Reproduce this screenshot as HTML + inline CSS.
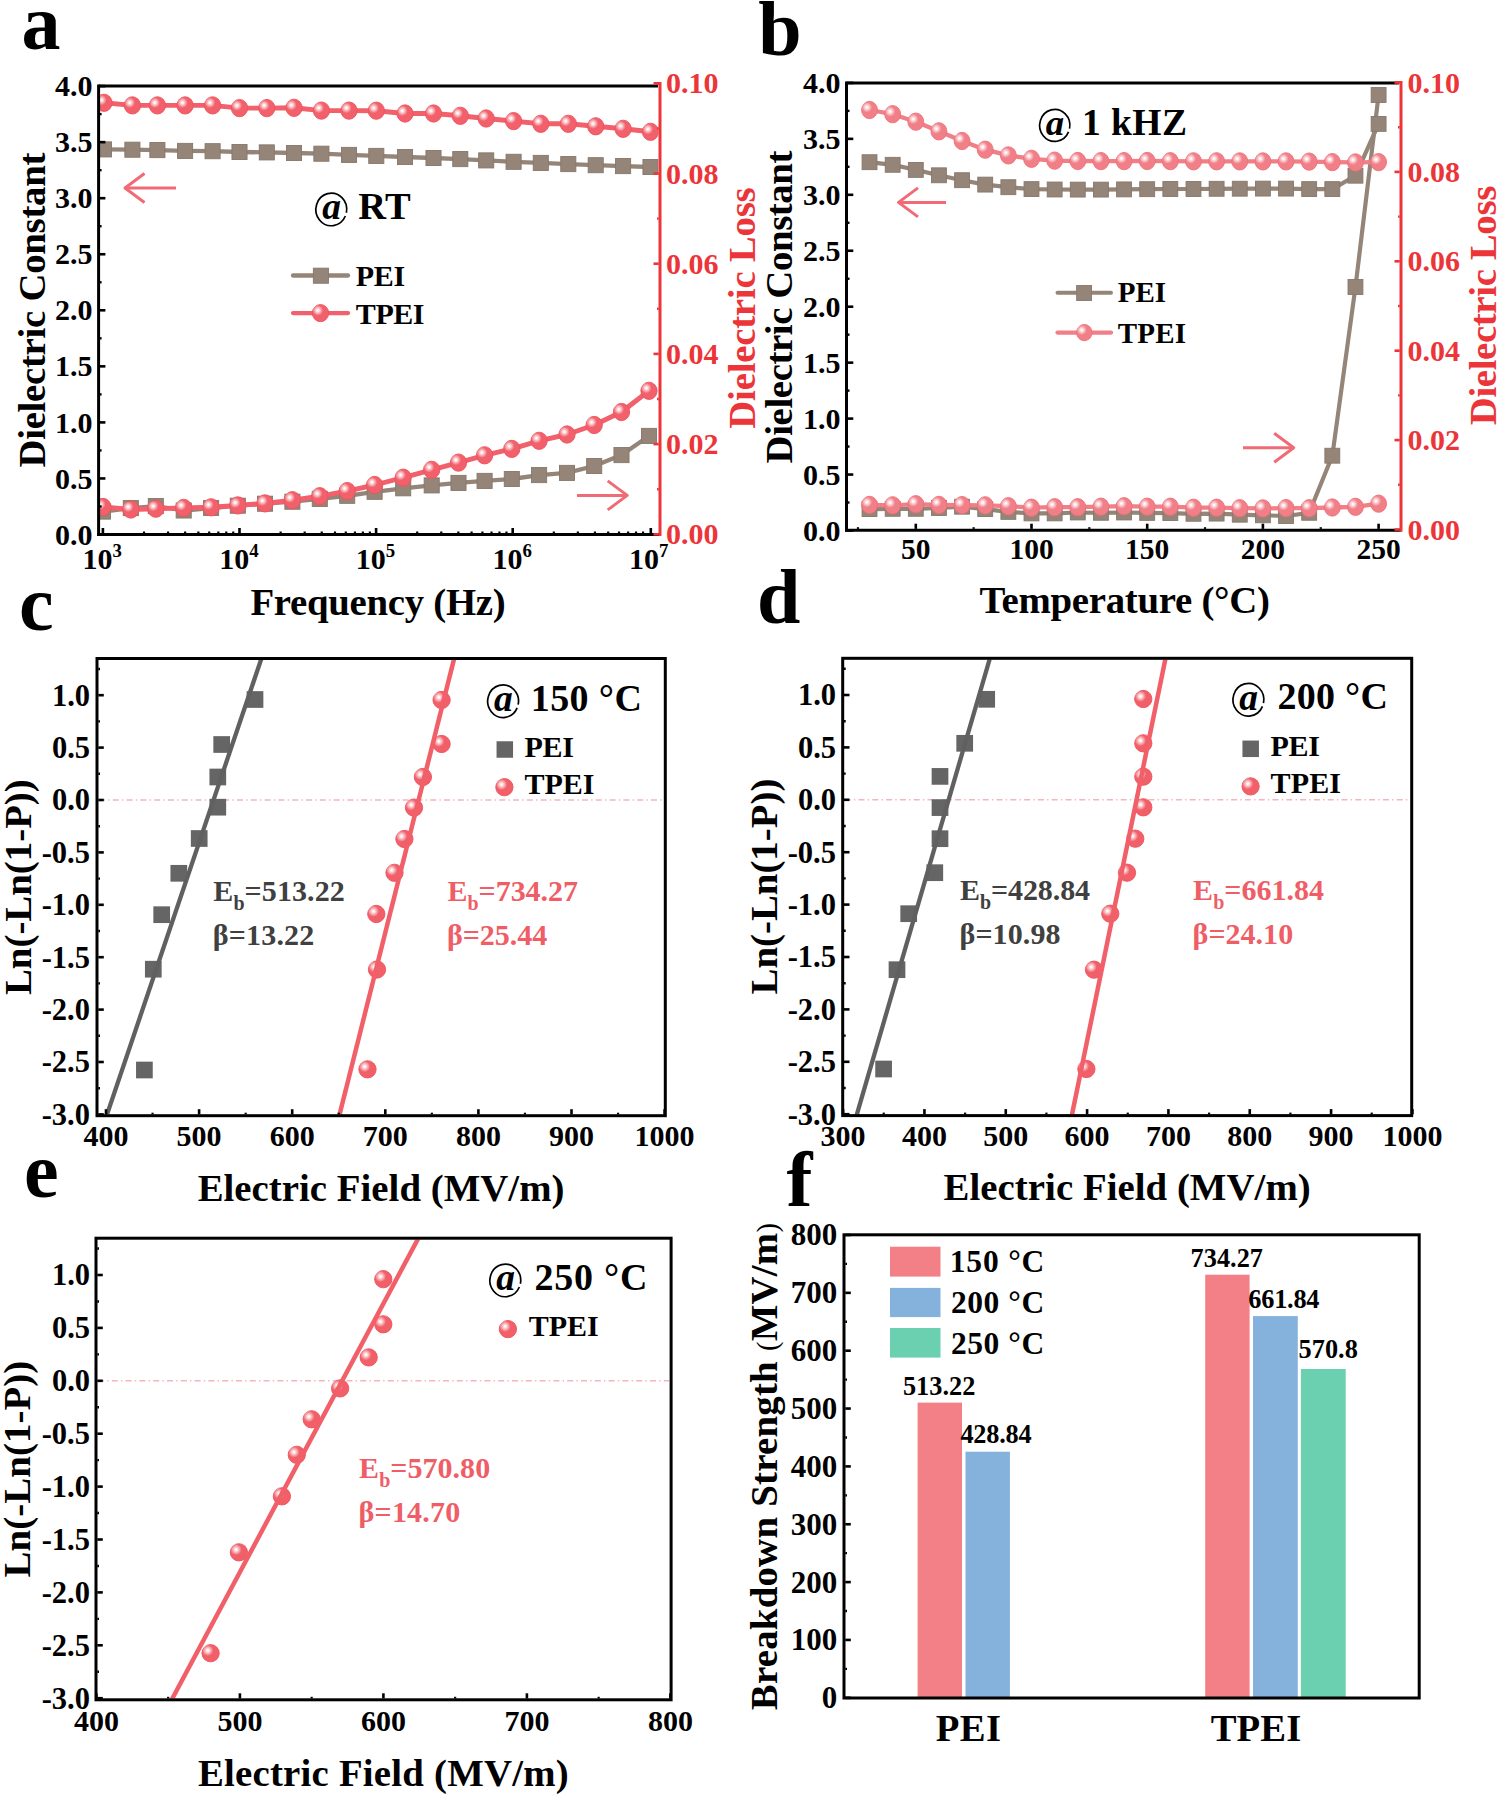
<!DOCTYPE html>
<html><head><meta charset="utf-8"><title>Figure</title><style>html,body{margin:0;padding:0;background:#fff;}svg{display:block;}</style></head><body>
<svg width="1500" height="1797" viewBox="0 0 1500 1797" style="font-family:'Liberation Serif',serif;font-weight:bold">
<defs><radialGradient id="hl"><stop offset="0" stop-color="#fff" stop-opacity="1"/><stop offset="0.15" stop-color="#fff" stop-opacity="0.95"/><stop offset="0.55" stop-color="#fff" stop-opacity="0.5"/><stop offset="1" stop-color="#fff" stop-opacity="0"/></radialGradient></defs>
<rect width="1500" height="1797" fill="#fff"/>
<text x="21.5" y="48.5" font-size="78" fill="#000" text-anchor="start">a</text>
<text x="758.2" y="55" font-size="78" fill="#000" text-anchor="start">b</text>
<text x="19" y="629.8" font-size="78" fill="#000" text-anchor="start">c</text>
<text x="757" y="622.8" font-size="78" fill="#000" text-anchor="start">d</text>
<text x="23.9" y="1196.8" font-size="78" fill="#000" text-anchor="start">e</text>
<text x="786.5" y="1205.5" font-size="78" fill="#000" text-anchor="start">f</text>
<clipPath id="clipa"><rect x="99.89999999999999" y="87.3" width="558.6" height="445.9"/></clipPath>
<g clip-path="url(#clipa)">
<polyline points="103,511.6 130.8,508.1 155.8,506.1 183.7,510.5 211.1,508 237.8,505.7 265,503.7 292.4,501.7 319.8,498.9 347.2,495.8 374.6,491.8 403.2,488.3 431.7,485.4 458.5,482.9 484.6,480.9 511.8,479 539.1,475.1 567,472.9 594.2,466 621.5,455.1 649,435.9" fill="none" stroke="#948578" stroke-width="4.3" stroke-linejoin="round"/>
<rect x="95.45" y="504.05" width="15.1" height="15.1" fill="#948578" stroke="#87776B" stroke-width="0.9"/>
<rect x="123.25" y="500.55" width="15.1" height="15.1" fill="#948578" stroke="#87776B" stroke-width="0.9"/>
<rect x="148.25" y="498.55" width="15.1" height="15.1" fill="#948578" stroke="#87776B" stroke-width="0.9"/>
<rect x="176.15" y="502.95" width="15.1" height="15.1" fill="#948578" stroke="#87776B" stroke-width="0.9"/>
<rect x="203.55" y="500.45" width="15.1" height="15.1" fill="#948578" stroke="#87776B" stroke-width="0.9"/>
<rect x="230.25" y="498.15" width="15.1" height="15.1" fill="#948578" stroke="#87776B" stroke-width="0.9"/>
<rect x="257.45" y="496.15" width="15.1" height="15.1" fill="#948578" stroke="#87776B" stroke-width="0.9"/>
<rect x="284.85" y="494.15" width="15.1" height="15.1" fill="#948578" stroke="#87776B" stroke-width="0.9"/>
<rect x="312.25" y="491.35" width="15.1" height="15.1" fill="#948578" stroke="#87776B" stroke-width="0.9"/>
<rect x="339.65" y="488.25" width="15.1" height="15.1" fill="#948578" stroke="#87776B" stroke-width="0.9"/>
<rect x="367.05" y="484.25" width="15.1" height="15.1" fill="#948578" stroke="#87776B" stroke-width="0.9"/>
<rect x="395.65" y="480.75" width="15.1" height="15.1" fill="#948578" stroke="#87776B" stroke-width="0.9"/>
<rect x="424.15" y="477.85" width="15.1" height="15.1" fill="#948578" stroke="#87776B" stroke-width="0.9"/>
<rect x="450.95" y="475.35" width="15.1" height="15.1" fill="#948578" stroke="#87776B" stroke-width="0.9"/>
<rect x="477.05" y="473.35" width="15.1" height="15.1" fill="#948578" stroke="#87776B" stroke-width="0.9"/>
<rect x="504.25" y="471.45" width="15.1" height="15.1" fill="#948578" stroke="#87776B" stroke-width="0.9"/>
<rect x="531.55" y="467.55" width="15.1" height="15.1" fill="#948578" stroke="#87776B" stroke-width="0.9"/>
<rect x="559.45" y="465.35" width="15.1" height="15.1" fill="#948578" stroke="#87776B" stroke-width="0.9"/>
<rect x="586.65" y="458.45" width="15.1" height="15.1" fill="#948578" stroke="#87776B" stroke-width="0.9"/>
<rect x="613.95" y="447.55" width="15.1" height="15.1" fill="#948578" stroke="#87776B" stroke-width="0.9"/>
<rect x="641.45" y="428.35" width="15.1" height="15.1" fill="#948578" stroke="#87776B" stroke-width="0.9"/>
<polyline points="103,507 130.8,509.5 155.8,508.7 183.7,507.9 211.1,507.3 237.8,505.4 265,503.4 292.4,500.2 319.8,496.2 347.2,491.1 374.6,485 403.2,477.7 431.7,469.8 458.5,462.6 484.6,455.3 511.8,448.9 539.1,440.8 567,434.5 594.2,425 621.5,412 649,390.8" fill="none" stroke="#F1606B" stroke-width="4.9" stroke-linejoin="round"/>
<ellipse cx="103" cy="507" rx="8.15" ry="8.65" fill="#F1606B" stroke="#EE525D" stroke-width="0.9"/>
<circle cx="100.33" cy="504.27" r="5.33" fill="url(#hl)"/>
<ellipse cx="130.8" cy="509.5" rx="8.15" ry="8.65" fill="#F1606B" stroke="#EE525D" stroke-width="0.9"/>
<circle cx="128.13" cy="506.77" r="5.33" fill="url(#hl)"/>
<ellipse cx="155.8" cy="508.7" rx="8.15" ry="8.65" fill="#F1606B" stroke="#EE525D" stroke-width="0.9"/>
<circle cx="153.13" cy="505.97" r="5.33" fill="url(#hl)"/>
<ellipse cx="183.7" cy="507.9" rx="8.15" ry="8.65" fill="#F1606B" stroke="#EE525D" stroke-width="0.9"/>
<circle cx="181.03" cy="505.17" r="5.33" fill="url(#hl)"/>
<ellipse cx="211.1" cy="507.3" rx="8.15" ry="8.65" fill="#F1606B" stroke="#EE525D" stroke-width="0.9"/>
<circle cx="208.43" cy="504.57" r="5.33" fill="url(#hl)"/>
<ellipse cx="237.8" cy="505.4" rx="8.15" ry="8.65" fill="#F1606B" stroke="#EE525D" stroke-width="0.9"/>
<circle cx="235.13" cy="502.67" r="5.33" fill="url(#hl)"/>
<ellipse cx="265" cy="503.4" rx="8.15" ry="8.65" fill="#F1606B" stroke="#EE525D" stroke-width="0.9"/>
<circle cx="262.33" cy="500.67" r="5.33" fill="url(#hl)"/>
<ellipse cx="292.4" cy="500.2" rx="8.15" ry="8.65" fill="#F1606B" stroke="#EE525D" stroke-width="0.9"/>
<circle cx="289.73" cy="497.47" r="5.33" fill="url(#hl)"/>
<ellipse cx="319.8" cy="496.2" rx="8.15" ry="8.65" fill="#F1606B" stroke="#EE525D" stroke-width="0.9"/>
<circle cx="317.13" cy="493.47" r="5.33" fill="url(#hl)"/>
<ellipse cx="347.2" cy="491.1" rx="8.15" ry="8.65" fill="#F1606B" stroke="#EE525D" stroke-width="0.9"/>
<circle cx="344.53" cy="488.37" r="5.33" fill="url(#hl)"/>
<ellipse cx="374.6" cy="485" rx="8.15" ry="8.65" fill="#F1606B" stroke="#EE525D" stroke-width="0.9"/>
<circle cx="371.93" cy="482.27" r="5.33" fill="url(#hl)"/>
<ellipse cx="403.2" cy="477.7" rx="8.15" ry="8.65" fill="#F1606B" stroke="#EE525D" stroke-width="0.9"/>
<circle cx="400.53" cy="474.97" r="5.33" fill="url(#hl)"/>
<ellipse cx="431.7" cy="469.8" rx="8.15" ry="8.65" fill="#F1606B" stroke="#EE525D" stroke-width="0.9"/>
<circle cx="429.03" cy="467.07" r="5.33" fill="url(#hl)"/>
<ellipse cx="458.5" cy="462.6" rx="8.15" ry="8.65" fill="#F1606B" stroke="#EE525D" stroke-width="0.9"/>
<circle cx="455.83" cy="459.87" r="5.33" fill="url(#hl)"/>
<ellipse cx="484.6" cy="455.3" rx="8.15" ry="8.65" fill="#F1606B" stroke="#EE525D" stroke-width="0.9"/>
<circle cx="481.93" cy="452.57" r="5.33" fill="url(#hl)"/>
<ellipse cx="511.8" cy="448.9" rx="8.15" ry="8.65" fill="#F1606B" stroke="#EE525D" stroke-width="0.9"/>
<circle cx="509.13" cy="446.17" r="5.33" fill="url(#hl)"/>
<ellipse cx="539.1" cy="440.8" rx="8.15" ry="8.65" fill="#F1606B" stroke="#EE525D" stroke-width="0.9"/>
<circle cx="536.43" cy="438.07" r="5.33" fill="url(#hl)"/>
<ellipse cx="567" cy="434.5" rx="8.15" ry="8.65" fill="#F1606B" stroke="#EE525D" stroke-width="0.9"/>
<circle cx="564.33" cy="431.77" r="5.33" fill="url(#hl)"/>
<ellipse cx="594.2" cy="425" rx="8.15" ry="8.65" fill="#F1606B" stroke="#EE525D" stroke-width="0.9"/>
<circle cx="591.53" cy="422.27" r="5.33" fill="url(#hl)"/>
<ellipse cx="621.5" cy="412" rx="8.15" ry="8.65" fill="#F1606B" stroke="#EE525D" stroke-width="0.9"/>
<circle cx="618.83" cy="409.27" r="5.33" fill="url(#hl)"/>
<ellipse cx="649" cy="390.8" rx="8.15" ry="8.65" fill="#F1606B" stroke="#EE525D" stroke-width="0.9"/>
<circle cx="646.33" cy="388.07" r="5.33" fill="url(#hl)"/>
<polyline points="104,149.4 132.4,149.7 157.4,150.1 185.1,150.9 212.6,151.2 239.5,152 266.8,152.4 294,153 321.4,153.7 349,154.9 376.3,155.9 405,157 433.5,158 460.3,159.1 486.2,160.4 513.6,161.8 540.8,162.9 568.3,164.1 595.7,165.2 623.1,166.1 650.5,167" fill="none" stroke="#948578" stroke-width="4.3" stroke-linejoin="round"/>
<rect x="96.45" y="141.85" width="15.1" height="15.1" fill="#948578" stroke="#87776B" stroke-width="0.9"/>
<rect x="124.85" y="142.15" width="15.1" height="15.1" fill="#948578" stroke="#87776B" stroke-width="0.9"/>
<rect x="149.85" y="142.55" width="15.1" height="15.1" fill="#948578" stroke="#87776B" stroke-width="0.9"/>
<rect x="177.55" y="143.35" width="15.1" height="15.1" fill="#948578" stroke="#87776B" stroke-width="0.9"/>
<rect x="205.05" y="143.65" width="15.1" height="15.1" fill="#948578" stroke="#87776B" stroke-width="0.9"/>
<rect x="231.95" y="144.45" width="15.1" height="15.1" fill="#948578" stroke="#87776B" stroke-width="0.9"/>
<rect x="259.25" y="144.85" width="15.1" height="15.1" fill="#948578" stroke="#87776B" stroke-width="0.9"/>
<rect x="286.45" y="145.45" width="15.1" height="15.1" fill="#948578" stroke="#87776B" stroke-width="0.9"/>
<rect x="313.85" y="146.15" width="15.1" height="15.1" fill="#948578" stroke="#87776B" stroke-width="0.9"/>
<rect x="341.45" y="147.35" width="15.1" height="15.1" fill="#948578" stroke="#87776B" stroke-width="0.9"/>
<rect x="368.75" y="148.35" width="15.1" height="15.1" fill="#948578" stroke="#87776B" stroke-width="0.9"/>
<rect x="397.45" y="149.45" width="15.1" height="15.1" fill="#948578" stroke="#87776B" stroke-width="0.9"/>
<rect x="425.95" y="150.45" width="15.1" height="15.1" fill="#948578" stroke="#87776B" stroke-width="0.9"/>
<rect x="452.75" y="151.55" width="15.1" height="15.1" fill="#948578" stroke="#87776B" stroke-width="0.9"/>
<rect x="478.65" y="152.85" width="15.1" height="15.1" fill="#948578" stroke="#87776B" stroke-width="0.9"/>
<rect x="506.05" y="154.25" width="15.1" height="15.1" fill="#948578" stroke="#87776B" stroke-width="0.9"/>
<rect x="533.25" y="155.35" width="15.1" height="15.1" fill="#948578" stroke="#87776B" stroke-width="0.9"/>
<rect x="560.75" y="156.55" width="15.1" height="15.1" fill="#948578" stroke="#87776B" stroke-width="0.9"/>
<rect x="588.15" y="157.65" width="15.1" height="15.1" fill="#948578" stroke="#87776B" stroke-width="0.9"/>
<rect x="615.55" y="158.55" width="15.1" height="15.1" fill="#948578" stroke="#87776B" stroke-width="0.9"/>
<rect x="642.95" y="159.45" width="15.1" height="15.1" fill="#948578" stroke="#87776B" stroke-width="0.9"/>
<polyline points="104,102.8 132.4,105.4 157.4,105.4 185.1,105.4 212.6,105.4 239.5,108.1 266.8,108.1 294,107.8 321.4,110.6 349,110.6 376.3,110.7 405,113.5 433.5,113.5 460.3,115.8 486.2,118.5 513.6,121.1 540.8,123.8 568.3,123.8 595.7,126.3 623.1,128.8 650.5,131.8" fill="none" stroke="#F1606B" stroke-width="4.9" stroke-linejoin="round"/>
<ellipse cx="104" cy="102.8" rx="8.15" ry="8.65" fill="#F1606B" stroke="#EE525D" stroke-width="0.9"/>
<circle cx="101.33" cy="100.07" r="5.33" fill="url(#hl)"/>
<ellipse cx="132.4" cy="105.4" rx="8.15" ry="8.65" fill="#F1606B" stroke="#EE525D" stroke-width="0.9"/>
<circle cx="129.73" cy="102.67" r="5.33" fill="url(#hl)"/>
<ellipse cx="157.4" cy="105.4" rx="8.15" ry="8.65" fill="#F1606B" stroke="#EE525D" stroke-width="0.9"/>
<circle cx="154.73" cy="102.67" r="5.33" fill="url(#hl)"/>
<ellipse cx="185.1" cy="105.4" rx="8.15" ry="8.65" fill="#F1606B" stroke="#EE525D" stroke-width="0.9"/>
<circle cx="182.43" cy="102.67" r="5.33" fill="url(#hl)"/>
<ellipse cx="212.6" cy="105.4" rx="8.15" ry="8.65" fill="#F1606B" stroke="#EE525D" stroke-width="0.9"/>
<circle cx="209.93" cy="102.67" r="5.33" fill="url(#hl)"/>
<ellipse cx="239.5" cy="108.1" rx="8.15" ry="8.65" fill="#F1606B" stroke="#EE525D" stroke-width="0.9"/>
<circle cx="236.83" cy="105.37" r="5.33" fill="url(#hl)"/>
<ellipse cx="266.8" cy="108.1" rx="8.15" ry="8.65" fill="#F1606B" stroke="#EE525D" stroke-width="0.9"/>
<circle cx="264.13" cy="105.37" r="5.33" fill="url(#hl)"/>
<ellipse cx="294" cy="107.8" rx="8.15" ry="8.65" fill="#F1606B" stroke="#EE525D" stroke-width="0.9"/>
<circle cx="291.33" cy="105.07" r="5.33" fill="url(#hl)"/>
<ellipse cx="321.4" cy="110.6" rx="8.15" ry="8.65" fill="#F1606B" stroke="#EE525D" stroke-width="0.9"/>
<circle cx="318.73" cy="107.87" r="5.33" fill="url(#hl)"/>
<ellipse cx="349" cy="110.6" rx="8.15" ry="8.65" fill="#F1606B" stroke="#EE525D" stroke-width="0.9"/>
<circle cx="346.33" cy="107.87" r="5.33" fill="url(#hl)"/>
<ellipse cx="376.3" cy="110.7" rx="8.15" ry="8.65" fill="#F1606B" stroke="#EE525D" stroke-width="0.9"/>
<circle cx="373.63" cy="107.97" r="5.33" fill="url(#hl)"/>
<ellipse cx="405" cy="113.5" rx="8.15" ry="8.65" fill="#F1606B" stroke="#EE525D" stroke-width="0.9"/>
<circle cx="402.33" cy="110.77" r="5.33" fill="url(#hl)"/>
<ellipse cx="433.5" cy="113.5" rx="8.15" ry="8.65" fill="#F1606B" stroke="#EE525D" stroke-width="0.9"/>
<circle cx="430.83" cy="110.77" r="5.33" fill="url(#hl)"/>
<ellipse cx="460.3" cy="115.8" rx="8.15" ry="8.65" fill="#F1606B" stroke="#EE525D" stroke-width="0.9"/>
<circle cx="457.63" cy="113.07" r="5.33" fill="url(#hl)"/>
<ellipse cx="486.2" cy="118.5" rx="8.15" ry="8.65" fill="#F1606B" stroke="#EE525D" stroke-width="0.9"/>
<circle cx="483.53" cy="115.77" r="5.33" fill="url(#hl)"/>
<ellipse cx="513.6" cy="121.1" rx="8.15" ry="8.65" fill="#F1606B" stroke="#EE525D" stroke-width="0.9"/>
<circle cx="510.93" cy="118.37" r="5.33" fill="url(#hl)"/>
<ellipse cx="540.8" cy="123.8" rx="8.15" ry="8.65" fill="#F1606B" stroke="#EE525D" stroke-width="0.9"/>
<circle cx="538.13" cy="121.07" r="5.33" fill="url(#hl)"/>
<ellipse cx="568.3" cy="123.8" rx="8.15" ry="8.65" fill="#F1606B" stroke="#EE525D" stroke-width="0.9"/>
<circle cx="565.63" cy="121.07" r="5.33" fill="url(#hl)"/>
<ellipse cx="595.7" cy="126.3" rx="8.15" ry="8.65" fill="#F1606B" stroke="#EE525D" stroke-width="0.9"/>
<circle cx="593.03" cy="123.57" r="5.33" fill="url(#hl)"/>
<ellipse cx="623.1" cy="128.8" rx="8.15" ry="8.65" fill="#F1606B" stroke="#EE525D" stroke-width="0.9"/>
<circle cx="620.43" cy="126.07" r="5.33" fill="url(#hl)"/>
<ellipse cx="650.5" cy="131.8" rx="8.15" ry="8.65" fill="#F1606B" stroke="#EE525D" stroke-width="0.9"/>
<circle cx="647.83" cy="129.07" r="5.33" fill="url(#hl)"/>
</g>
<line x1="98.6" y1="86" x2="658" y2="86" stroke="#000" stroke-width="3"/>
<line x1="98.6" y1="84.5" x2="98.6" y2="536" stroke="#000" stroke-width="3"/>
<line x1="97.1" y1="534.5" x2="660" y2="534.5" stroke="#000" stroke-width="3"/>
<line x1="660" y1="82" x2="660" y2="536" stroke="#EC3539" stroke-width="3"/>
<line x1="656" y1="83.5" x2="660" y2="83.5" stroke="#EC3539" stroke-width="2.6"/>
<line x1="99.9" y1="534.5" x2="105.4" y2="534.5" stroke="#000" stroke-width="2.6"/>
<line x1="99.9" y1="478.45" x2="105.4" y2="478.45" stroke="#000" stroke-width="2.6"/>
<line x1="99.9" y1="422.4" x2="105.4" y2="422.4" stroke="#000" stroke-width="2.6"/>
<line x1="99.9" y1="366.35" x2="105.4" y2="366.35" stroke="#000" stroke-width="2.6"/>
<line x1="99.9" y1="310.3" x2="105.4" y2="310.3" stroke="#000" stroke-width="2.6"/>
<line x1="99.9" y1="254.25" x2="105.4" y2="254.25" stroke="#000" stroke-width="2.6"/>
<line x1="99.9" y1="198.2" x2="105.4" y2="198.2" stroke="#000" stroke-width="2.6"/>
<line x1="99.9" y1="142.15" x2="105.4" y2="142.15" stroke="#000" stroke-width="2.6"/>
<line x1="99.9" y1="86.1" x2="105.4" y2="86.1" stroke="#000" stroke-width="2.6"/>
<line x1="99.9" y1="506.48" x2="101.6" y2="506.48" stroke="#000" stroke-width="2.4"/>
<line x1="99.9" y1="450.43" x2="101.6" y2="450.43" stroke="#000" stroke-width="2.4"/>
<line x1="99.9" y1="394.38" x2="101.6" y2="394.38" stroke="#000" stroke-width="2.4"/>
<line x1="99.9" y1="338.33" x2="101.6" y2="338.33" stroke="#000" stroke-width="2.4"/>
<line x1="99.9" y1="282.27" x2="101.6" y2="282.27" stroke="#000" stroke-width="2.4"/>
<line x1="99.9" y1="226.23" x2="101.6" y2="226.23" stroke="#000" stroke-width="2.4"/>
<line x1="99.9" y1="170.18" x2="101.6" y2="170.18" stroke="#000" stroke-width="2.4"/>
<line x1="99.9" y1="114.12" x2="101.6" y2="114.12" stroke="#000" stroke-width="2.4"/>
<text x="92.4" y="544.64" font-size="30" fill="#000" text-anchor="end">0.0</text>
<text x="92.4" y="488.59" font-size="30" fill="#000" text-anchor="end">0.5</text>
<text x="92.4" y="432.54" font-size="30" fill="#000" text-anchor="end">1.0</text>
<text x="92.4" y="376.49" font-size="30" fill="#000" text-anchor="end">1.5</text>
<text x="92.4" y="320.44" font-size="30" fill="#000" text-anchor="end">2.0</text>
<text x="92.4" y="264.39" font-size="30" fill="#000" text-anchor="end">2.5</text>
<text x="92.4" y="208.34" font-size="30" fill="#000" text-anchor="end">3.0</text>
<text x="92.4" y="152.29" font-size="30" fill="#000" text-anchor="end">3.5</text>
<text x="92.4" y="96.24" font-size="30" fill="#000" text-anchor="end">4.0</text>
<line x1="658.7" y1="534.3" x2="653.5" y2="534.3" stroke="#EC3539" stroke-width="2.6"/>
<text x="666" y="544.44" font-size="30" fill="#EC3539" text-anchor="start">0.00</text>
<line x1="658.7" y1="444.1" x2="653.5" y2="444.1" stroke="#EC3539" stroke-width="2.6"/>
<text x="666" y="454.24" font-size="30" fill="#EC3539" text-anchor="start">0.02</text>
<line x1="658.7" y1="353.9" x2="653.5" y2="353.9" stroke="#EC3539" stroke-width="2.6"/>
<text x="666" y="364.04" font-size="30" fill="#EC3539" text-anchor="start">0.04</text>
<line x1="658.7" y1="263.7" x2="653.5" y2="263.7" stroke="#EC3539" stroke-width="2.6"/>
<text x="666" y="273.84" font-size="30" fill="#EC3539" text-anchor="start">0.06</text>
<line x1="658.7" y1="173.5" x2="653.5" y2="173.5" stroke="#EC3539" stroke-width="2.6"/>
<text x="666" y="183.64" font-size="30" fill="#EC3539" text-anchor="start">0.08</text>
<line x1="658.7" y1="83.3" x2="653.5" y2="83.3" stroke="#EC3539" stroke-width="2.6"/>
<text x="666" y="93.44" font-size="30" fill="#EC3539" text-anchor="start">0.10</text>
<line x1="658.7" y1="489.2" x2="657" y2="489.2" stroke="#EC3539" stroke-width="2.4"/>
<line x1="658.7" y1="399" x2="657" y2="399" stroke="#EC3539" stroke-width="2.4"/>
<line x1="658.7" y1="308.8" x2="657" y2="308.8" stroke="#EC3539" stroke-width="2.4"/>
<line x1="658.7" y1="218.6" x2="657" y2="218.6" stroke="#EC3539" stroke-width="2.4"/>
<line x1="658.7" y1="128.4" x2="657" y2="128.4" stroke="#EC3539" stroke-width="2.4"/>
<line x1="102.9" y1="533.2" x2="102.9" y2="528" stroke="#000" stroke-width="2.6"/>
<line x1="144.02" y1="533.2" x2="144.02" y2="531.5" stroke="#000" stroke-width="2.2"/>
<line x1="168.07" y1="533.2" x2="168.07" y2="531.5" stroke="#000" stroke-width="2.2"/>
<line x1="185.14" y1="533.2" x2="185.14" y2="531.5" stroke="#000" stroke-width="2.2"/>
<line x1="198.38" y1="533.2" x2="198.38" y2="531.5" stroke="#000" stroke-width="2.2"/>
<line x1="209.2" y1="533.2" x2="209.2" y2="531.5" stroke="#000" stroke-width="2.2"/>
<line x1="218.34" y1="533.2" x2="218.34" y2="531.5" stroke="#000" stroke-width="2.2"/>
<line x1="226.26" y1="533.2" x2="226.26" y2="531.5" stroke="#000" stroke-width="2.2"/>
<line x1="233.25" y1="533.2" x2="233.25" y2="531.5" stroke="#000" stroke-width="2.2"/>
<text x="82.6" y="569.3" font-size="30">10<tspan font-size="18.8" dy="-12.3">3</tspan></text>
<line x1="239.5" y1="533.2" x2="239.5" y2="528" stroke="#000" stroke-width="2.6"/>
<line x1="280.62" y1="533.2" x2="280.62" y2="531.5" stroke="#000" stroke-width="2.2"/>
<line x1="304.67" y1="533.2" x2="304.67" y2="531.5" stroke="#000" stroke-width="2.2"/>
<line x1="321.74" y1="533.2" x2="321.74" y2="531.5" stroke="#000" stroke-width="2.2"/>
<line x1="334.98" y1="533.2" x2="334.98" y2="531.5" stroke="#000" stroke-width="2.2"/>
<line x1="345.8" y1="533.2" x2="345.8" y2="531.5" stroke="#000" stroke-width="2.2"/>
<line x1="354.94" y1="533.2" x2="354.94" y2="531.5" stroke="#000" stroke-width="2.2"/>
<line x1="362.86" y1="533.2" x2="362.86" y2="531.5" stroke="#000" stroke-width="2.2"/>
<line x1="369.85" y1="533.2" x2="369.85" y2="531.5" stroke="#000" stroke-width="2.2"/>
<text x="219.2" y="569.3" font-size="30">10<tspan font-size="18.8" dy="-12.3">4</tspan></text>
<line x1="376.1" y1="533.2" x2="376.1" y2="528" stroke="#000" stroke-width="2.6"/>
<line x1="417.22" y1="533.2" x2="417.22" y2="531.5" stroke="#000" stroke-width="2.2"/>
<line x1="441.27" y1="533.2" x2="441.27" y2="531.5" stroke="#000" stroke-width="2.2"/>
<line x1="458.34" y1="533.2" x2="458.34" y2="531.5" stroke="#000" stroke-width="2.2"/>
<line x1="471.58" y1="533.2" x2="471.58" y2="531.5" stroke="#000" stroke-width="2.2"/>
<line x1="482.4" y1="533.2" x2="482.4" y2="531.5" stroke="#000" stroke-width="2.2"/>
<line x1="491.54" y1="533.2" x2="491.54" y2="531.5" stroke="#000" stroke-width="2.2"/>
<line x1="499.46" y1="533.2" x2="499.46" y2="531.5" stroke="#000" stroke-width="2.2"/>
<line x1="506.45" y1="533.2" x2="506.45" y2="531.5" stroke="#000" stroke-width="2.2"/>
<text x="355.8" y="569.3" font-size="30">10<tspan font-size="18.8" dy="-12.3">5</tspan></text>
<line x1="512.7" y1="533.2" x2="512.7" y2="528" stroke="#000" stroke-width="2.6"/>
<line x1="553.82" y1="533.2" x2="553.82" y2="531.5" stroke="#000" stroke-width="2.2"/>
<line x1="577.87" y1="533.2" x2="577.87" y2="531.5" stroke="#000" stroke-width="2.2"/>
<line x1="594.94" y1="533.2" x2="594.94" y2="531.5" stroke="#000" stroke-width="2.2"/>
<line x1="608.18" y1="533.2" x2="608.18" y2="531.5" stroke="#000" stroke-width="2.2"/>
<line x1="619" y1="533.2" x2="619" y2="531.5" stroke="#000" stroke-width="2.2"/>
<line x1="628.14" y1="533.2" x2="628.14" y2="531.5" stroke="#000" stroke-width="2.2"/>
<line x1="636.06" y1="533.2" x2="636.06" y2="531.5" stroke="#000" stroke-width="2.2"/>
<line x1="643.05" y1="533.2" x2="643.05" y2="531.5" stroke="#000" stroke-width="2.2"/>
<text x="492.4" y="569.3" font-size="30">10<tspan font-size="18.8" dy="-12.3">6</tspan></text>
<line x1="650.8" y1="533.2" x2="650.8" y2="528" stroke="#000" stroke-width="2.6"/>
<text x="629" y="569.3" font-size="30">10<tspan font-size="18.8" dy="-12.3">7</tspan></text>
<text x="250.44" y="614.6" font-size="38.8" fill="#000" textLength="255.27" lengthAdjust="spacing">Frequency (Hz)</text>
<text transform="translate(44.8,467.58) rotate(-90)" font-size="38.8" fill="#000" textLength="314.95" lengthAdjust="spacing">Dielectric Constant</text>
<text transform="translate(755.2,428.68) rotate(-90)" font-size="38.8" fill="#EC3539" textLength="241.33" lengthAdjust="spacing">Dielectric Loss</text>
<path d="M345.37,216.03 A15.4,16.3 0 1 1 346.36,212.79" fill="none" stroke="#000" stroke-width="1.7"/>
<text x="322.2" y="219.2" font-size="37.5" font-style="italic">a</text>
<text x="358.34" y="219" font-size="38.5" fill="#000" textLength="52.24" lengthAdjust="spacing">RT</text>
<line x1="293" y1="275.5" x2="348" y2="275.5" stroke="#948578" stroke-width="4.3" stroke-linecap="round"/>
<rect x="313.35" y="268.15" width="15.1" height="15.1" fill="#948578" stroke="#87776B" stroke-width="0.9"/>
<text x="355.79" y="285.6" font-size="30" fill="#000" textLength="49.52" lengthAdjust="spacing">PEI</text>
<line x1="293" y1="313.1" x2="348" y2="313.1" stroke="#F1606B" stroke-width="4.3" stroke-linecap="round"/>
<ellipse cx="320.5" cy="313.1" rx="8.15" ry="8.55" fill="#F1606B" stroke="#EE525D" stroke-width="0.9"/>
<circle cx="317.83" cy="310.4" r="5.33" fill="url(#hl)"/>
<text x="355.83" y="323.5" font-size="30" fill="#000" textLength="68.68" lengthAdjust="spacing">TPEI</text>
<line x1="125" y1="188" x2="176" y2="188" stroke="#F06B75" stroke-width="3"/>
<polyline points="144.5,173.5 125,188 144.5,202.5" fill="none" stroke="#F06B75" stroke-width="3" stroke-linejoin="round" stroke-linejoin="bevel"/>
<line x1="577" y1="495.4" x2="627.2" y2="495.4" stroke="#F06B75" stroke-width="3"/>
<polyline points="607.7,480.9 627.2,495.4 607.7,509.9" fill="none" stroke="#F06B75" stroke-width="3" stroke-linejoin="round" stroke-linejoin="bevel"/>
<clipPath id="clipb"><rect x="847.8" y="84.3" width="551.7" height="444.6"/></clipPath>
<g clip-path="url(#clipb)">
<polyline points="869.52,509.1 892.66,508.8 915.8,508.8 938.94,508 962.08,506.7 985.22,509.1 1008.36,511.9 1031.5,513.4 1054.64,513.4 1077.78,512.5 1100.92,512.8 1124.06,512.5 1147.2,512.9 1170.34,513.1 1193.48,513.8 1216.62,513.6 1239.76,514.7 1262.9,515.3 1286.04,516 1309.18,512.8 1332.32,455.7 1355.46,287 1378.6,95" fill="none" stroke="#948578" stroke-width="4.2" stroke-linejoin="round"/>
<rect x="862.07" y="501.65" width="14.9" height="14.9" fill="#948578" stroke="#87776B" stroke-width="0.9"/>
<rect x="885.21" y="501.35" width="14.9" height="14.9" fill="#948578" stroke="#87776B" stroke-width="0.9"/>
<rect x="908.35" y="501.35" width="14.9" height="14.9" fill="#948578" stroke="#87776B" stroke-width="0.9"/>
<rect x="931.49" y="500.55" width="14.9" height="14.9" fill="#948578" stroke="#87776B" stroke-width="0.9"/>
<rect x="954.63" y="499.25" width="14.9" height="14.9" fill="#948578" stroke="#87776B" stroke-width="0.9"/>
<rect x="977.77" y="501.65" width="14.9" height="14.9" fill="#948578" stroke="#87776B" stroke-width="0.9"/>
<rect x="1000.91" y="504.45" width="14.9" height="14.9" fill="#948578" stroke="#87776B" stroke-width="0.9"/>
<rect x="1024.05" y="505.95" width="14.9" height="14.9" fill="#948578" stroke="#87776B" stroke-width="0.9"/>
<rect x="1047.19" y="505.95" width="14.9" height="14.9" fill="#948578" stroke="#87776B" stroke-width="0.9"/>
<rect x="1070.33" y="505.05" width="14.9" height="14.9" fill="#948578" stroke="#87776B" stroke-width="0.9"/>
<rect x="1093.47" y="505.35" width="14.9" height="14.9" fill="#948578" stroke="#87776B" stroke-width="0.9"/>
<rect x="1116.61" y="505.05" width="14.9" height="14.9" fill="#948578" stroke="#87776B" stroke-width="0.9"/>
<rect x="1139.75" y="505.45" width="14.9" height="14.9" fill="#948578" stroke="#87776B" stroke-width="0.9"/>
<rect x="1162.89" y="505.65" width="14.9" height="14.9" fill="#948578" stroke="#87776B" stroke-width="0.9"/>
<rect x="1186.03" y="506.35" width="14.9" height="14.9" fill="#948578" stroke="#87776B" stroke-width="0.9"/>
<rect x="1209.17" y="506.15" width="14.9" height="14.9" fill="#948578" stroke="#87776B" stroke-width="0.9"/>
<rect x="1232.31" y="507.25" width="14.9" height="14.9" fill="#948578" stroke="#87776B" stroke-width="0.9"/>
<rect x="1255.45" y="507.85" width="14.9" height="14.9" fill="#948578" stroke="#87776B" stroke-width="0.9"/>
<rect x="1278.59" y="508.55" width="14.9" height="14.9" fill="#948578" stroke="#87776B" stroke-width="0.9"/>
<rect x="1301.73" y="505.35" width="14.9" height="14.9" fill="#948578" stroke="#87776B" stroke-width="0.9"/>
<rect x="1324.87" y="448.25" width="14.9" height="14.9" fill="#948578" stroke="#87776B" stroke-width="0.9"/>
<rect x="1348.01" y="279.55" width="14.9" height="14.9" fill="#948578" stroke="#87776B" stroke-width="0.9"/>
<rect x="1371.15" y="87.55" width="14.9" height="14.9" fill="#948578" stroke="#87776B" stroke-width="0.9"/>
<polyline points="869.52,504.9 892.66,505.3 915.8,504.2 938.94,504.9 962.08,505.1 985.22,505.3 1008.36,506.2 1031.5,507.7 1054.64,507.2 1077.78,507.2 1100.92,506.7 1124.06,506.2 1147.2,506.7 1170.34,506.7 1193.48,507.7 1216.62,507.7 1239.76,508.2 1262.9,508.4 1286.04,508.1 1309.18,508.2 1332.32,507.5 1355.46,506.8 1378.6,503.7" fill="none" stroke="#F17F88" stroke-width="4.3" stroke-linejoin="round"/>
<ellipse cx="869.52" cy="504.9" rx="7.95" ry="8.65" fill="#F17F88" stroke="#EF6F79" stroke-width="0.9"/>
<circle cx="866.92" cy="502.17" r="5.21" fill="url(#hl)"/>
<ellipse cx="892.66" cy="505.3" rx="7.95" ry="8.65" fill="#F17F88" stroke="#EF6F79" stroke-width="0.9"/>
<circle cx="890.06" cy="502.57" r="5.21" fill="url(#hl)"/>
<ellipse cx="915.8" cy="504.2" rx="7.95" ry="8.65" fill="#F17F88" stroke="#EF6F79" stroke-width="0.9"/>
<circle cx="913.2" cy="501.47" r="5.21" fill="url(#hl)"/>
<ellipse cx="938.94" cy="504.9" rx="7.95" ry="8.65" fill="#F17F88" stroke="#EF6F79" stroke-width="0.9"/>
<circle cx="936.34" cy="502.17" r="5.21" fill="url(#hl)"/>
<ellipse cx="962.08" cy="505.1" rx="7.95" ry="8.65" fill="#F17F88" stroke="#EF6F79" stroke-width="0.9"/>
<circle cx="959.48" cy="502.37" r="5.21" fill="url(#hl)"/>
<ellipse cx="985.22" cy="505.3" rx="7.95" ry="8.65" fill="#F17F88" stroke="#EF6F79" stroke-width="0.9"/>
<circle cx="982.62" cy="502.57" r="5.21" fill="url(#hl)"/>
<ellipse cx="1008.36" cy="506.2" rx="7.95" ry="8.65" fill="#F17F88" stroke="#EF6F79" stroke-width="0.9"/>
<circle cx="1005.76" cy="503.47" r="5.21" fill="url(#hl)"/>
<ellipse cx="1031.5" cy="507.7" rx="7.95" ry="8.65" fill="#F17F88" stroke="#EF6F79" stroke-width="0.9"/>
<circle cx="1028.9" cy="504.97" r="5.21" fill="url(#hl)"/>
<ellipse cx="1054.64" cy="507.2" rx="7.95" ry="8.65" fill="#F17F88" stroke="#EF6F79" stroke-width="0.9"/>
<circle cx="1052.04" cy="504.47" r="5.21" fill="url(#hl)"/>
<ellipse cx="1077.78" cy="507.2" rx="7.95" ry="8.65" fill="#F17F88" stroke="#EF6F79" stroke-width="0.9"/>
<circle cx="1075.18" cy="504.47" r="5.21" fill="url(#hl)"/>
<ellipse cx="1100.92" cy="506.7" rx="7.95" ry="8.65" fill="#F17F88" stroke="#EF6F79" stroke-width="0.9"/>
<circle cx="1098.32" cy="503.97" r="5.21" fill="url(#hl)"/>
<ellipse cx="1124.06" cy="506.2" rx="7.95" ry="8.65" fill="#F17F88" stroke="#EF6F79" stroke-width="0.9"/>
<circle cx="1121.46" cy="503.47" r="5.21" fill="url(#hl)"/>
<ellipse cx="1147.2" cy="506.7" rx="7.95" ry="8.65" fill="#F17F88" stroke="#EF6F79" stroke-width="0.9"/>
<circle cx="1144.6" cy="503.97" r="5.21" fill="url(#hl)"/>
<ellipse cx="1170.34" cy="506.7" rx="7.95" ry="8.65" fill="#F17F88" stroke="#EF6F79" stroke-width="0.9"/>
<circle cx="1167.74" cy="503.97" r="5.21" fill="url(#hl)"/>
<ellipse cx="1193.48" cy="507.7" rx="7.95" ry="8.65" fill="#F17F88" stroke="#EF6F79" stroke-width="0.9"/>
<circle cx="1190.88" cy="504.97" r="5.21" fill="url(#hl)"/>
<ellipse cx="1216.62" cy="507.7" rx="7.95" ry="8.65" fill="#F17F88" stroke="#EF6F79" stroke-width="0.9"/>
<circle cx="1214.02" cy="504.97" r="5.21" fill="url(#hl)"/>
<ellipse cx="1239.76" cy="508.2" rx="7.95" ry="8.65" fill="#F17F88" stroke="#EF6F79" stroke-width="0.9"/>
<circle cx="1237.16" cy="505.47" r="5.21" fill="url(#hl)"/>
<ellipse cx="1262.9" cy="508.4" rx="7.95" ry="8.65" fill="#F17F88" stroke="#EF6F79" stroke-width="0.9"/>
<circle cx="1260.3" cy="505.67" r="5.21" fill="url(#hl)"/>
<ellipse cx="1286.04" cy="508.1" rx="7.95" ry="8.65" fill="#F17F88" stroke="#EF6F79" stroke-width="0.9"/>
<circle cx="1283.44" cy="505.37" r="5.21" fill="url(#hl)"/>
<ellipse cx="1309.18" cy="508.2" rx="7.95" ry="8.65" fill="#F17F88" stroke="#EF6F79" stroke-width="0.9"/>
<circle cx="1306.58" cy="505.47" r="5.21" fill="url(#hl)"/>
<ellipse cx="1332.32" cy="507.5" rx="7.95" ry="8.65" fill="#F17F88" stroke="#EF6F79" stroke-width="0.9"/>
<circle cx="1329.72" cy="504.77" r="5.21" fill="url(#hl)"/>
<ellipse cx="1355.46" cy="506.8" rx="7.95" ry="8.65" fill="#F17F88" stroke="#EF6F79" stroke-width="0.9"/>
<circle cx="1352.86" cy="504.07" r="5.21" fill="url(#hl)"/>
<ellipse cx="1378.6" cy="503.7" rx="7.95" ry="8.65" fill="#F17F88" stroke="#EF6F79" stroke-width="0.9"/>
<circle cx="1376" cy="500.97" r="5.21" fill="url(#hl)"/>
<polyline points="869.52,162.2 892.66,164.8 915.8,169.9 938.94,175.3 962.08,180.2 985.22,184.6 1008.36,187.2 1031.5,189.1 1054.64,189.5 1077.78,189.6 1100.92,189.6 1124.06,189.4 1147.2,189.2 1170.34,189 1193.48,189 1216.62,188.8 1239.76,188.7 1262.9,188.6 1286.04,188.6 1309.18,189.1 1332.32,189.1 1355.46,175.7 1378.6,123.9" fill="none" stroke="#948578" stroke-width="4.2" stroke-linejoin="round"/>
<rect x="862.07" y="154.75" width="14.9" height="14.9" fill="#948578" stroke="#87776B" stroke-width="0.9"/>
<rect x="885.21" y="157.35" width="14.9" height="14.9" fill="#948578" stroke="#87776B" stroke-width="0.9"/>
<rect x="908.35" y="162.45" width="14.9" height="14.9" fill="#948578" stroke="#87776B" stroke-width="0.9"/>
<rect x="931.49" y="167.85" width="14.9" height="14.9" fill="#948578" stroke="#87776B" stroke-width="0.9"/>
<rect x="954.63" y="172.75" width="14.9" height="14.9" fill="#948578" stroke="#87776B" stroke-width="0.9"/>
<rect x="977.77" y="177.15" width="14.9" height="14.9" fill="#948578" stroke="#87776B" stroke-width="0.9"/>
<rect x="1000.91" y="179.75" width="14.9" height="14.9" fill="#948578" stroke="#87776B" stroke-width="0.9"/>
<rect x="1024.05" y="181.65" width="14.9" height="14.9" fill="#948578" stroke="#87776B" stroke-width="0.9"/>
<rect x="1047.19" y="182.05" width="14.9" height="14.9" fill="#948578" stroke="#87776B" stroke-width="0.9"/>
<rect x="1070.33" y="182.15" width="14.9" height="14.9" fill="#948578" stroke="#87776B" stroke-width="0.9"/>
<rect x="1093.47" y="182.15" width="14.9" height="14.9" fill="#948578" stroke="#87776B" stroke-width="0.9"/>
<rect x="1116.61" y="181.95" width="14.9" height="14.9" fill="#948578" stroke="#87776B" stroke-width="0.9"/>
<rect x="1139.75" y="181.75" width="14.9" height="14.9" fill="#948578" stroke="#87776B" stroke-width="0.9"/>
<rect x="1162.89" y="181.55" width="14.9" height="14.9" fill="#948578" stroke="#87776B" stroke-width="0.9"/>
<rect x="1186.03" y="181.55" width="14.9" height="14.9" fill="#948578" stroke="#87776B" stroke-width="0.9"/>
<rect x="1209.17" y="181.35" width="14.9" height="14.9" fill="#948578" stroke="#87776B" stroke-width="0.9"/>
<rect x="1232.31" y="181.25" width="14.9" height="14.9" fill="#948578" stroke="#87776B" stroke-width="0.9"/>
<rect x="1255.45" y="181.15" width="14.9" height="14.9" fill="#948578" stroke="#87776B" stroke-width="0.9"/>
<rect x="1278.59" y="181.15" width="14.9" height="14.9" fill="#948578" stroke="#87776B" stroke-width="0.9"/>
<rect x="1301.73" y="181.65" width="14.9" height="14.9" fill="#948578" stroke="#87776B" stroke-width="0.9"/>
<rect x="1324.87" y="181.65" width="14.9" height="14.9" fill="#948578" stroke="#87776B" stroke-width="0.9"/>
<rect x="1348.01" y="168.25" width="14.9" height="14.9" fill="#948578" stroke="#87776B" stroke-width="0.9"/>
<rect x="1371.15" y="116.45" width="14.9" height="14.9" fill="#948578" stroke="#87776B" stroke-width="0.9"/>
<polyline points="869.52,110 892.66,114.2 915.8,121.7 938.94,131.3 962.08,141 985.22,149.7 1008.36,155.4 1031.5,158.8 1054.64,160.6 1077.78,161 1100.92,161.1 1124.06,161.1 1147.2,161 1170.34,161.2 1193.48,161.3 1216.62,161.3 1239.76,161.4 1262.9,161.4 1286.04,161.4 1309.18,161.6 1332.32,162.1 1355.46,162.4 1378.6,162.1" fill="none" stroke="#F17F88" stroke-width="4.3" stroke-linejoin="round"/>
<ellipse cx="869.52" cy="110" rx="7.95" ry="8.65" fill="#F17F88" stroke="#EF6F79" stroke-width="0.9"/>
<circle cx="866.92" cy="107.27" r="5.21" fill="url(#hl)"/>
<ellipse cx="892.66" cy="114.2" rx="7.95" ry="8.65" fill="#F17F88" stroke="#EF6F79" stroke-width="0.9"/>
<circle cx="890.06" cy="111.47" r="5.21" fill="url(#hl)"/>
<ellipse cx="915.8" cy="121.7" rx="7.95" ry="8.65" fill="#F17F88" stroke="#EF6F79" stroke-width="0.9"/>
<circle cx="913.2" cy="118.97" r="5.21" fill="url(#hl)"/>
<ellipse cx="938.94" cy="131.3" rx="7.95" ry="8.65" fill="#F17F88" stroke="#EF6F79" stroke-width="0.9"/>
<circle cx="936.34" cy="128.57" r="5.21" fill="url(#hl)"/>
<ellipse cx="962.08" cy="141" rx="7.95" ry="8.65" fill="#F17F88" stroke="#EF6F79" stroke-width="0.9"/>
<circle cx="959.48" cy="138.27" r="5.21" fill="url(#hl)"/>
<ellipse cx="985.22" cy="149.7" rx="7.95" ry="8.65" fill="#F17F88" stroke="#EF6F79" stroke-width="0.9"/>
<circle cx="982.62" cy="146.97" r="5.21" fill="url(#hl)"/>
<ellipse cx="1008.36" cy="155.4" rx="7.95" ry="8.65" fill="#F17F88" stroke="#EF6F79" stroke-width="0.9"/>
<circle cx="1005.76" cy="152.67" r="5.21" fill="url(#hl)"/>
<ellipse cx="1031.5" cy="158.8" rx="7.95" ry="8.65" fill="#F17F88" stroke="#EF6F79" stroke-width="0.9"/>
<circle cx="1028.9" cy="156.07" r="5.21" fill="url(#hl)"/>
<ellipse cx="1054.64" cy="160.6" rx="7.95" ry="8.65" fill="#F17F88" stroke="#EF6F79" stroke-width="0.9"/>
<circle cx="1052.04" cy="157.87" r="5.21" fill="url(#hl)"/>
<ellipse cx="1077.78" cy="161" rx="7.95" ry="8.65" fill="#F17F88" stroke="#EF6F79" stroke-width="0.9"/>
<circle cx="1075.18" cy="158.27" r="5.21" fill="url(#hl)"/>
<ellipse cx="1100.92" cy="161.1" rx="7.95" ry="8.65" fill="#F17F88" stroke="#EF6F79" stroke-width="0.9"/>
<circle cx="1098.32" cy="158.37" r="5.21" fill="url(#hl)"/>
<ellipse cx="1124.06" cy="161.1" rx="7.95" ry="8.65" fill="#F17F88" stroke="#EF6F79" stroke-width="0.9"/>
<circle cx="1121.46" cy="158.37" r="5.21" fill="url(#hl)"/>
<ellipse cx="1147.2" cy="161" rx="7.95" ry="8.65" fill="#F17F88" stroke="#EF6F79" stroke-width="0.9"/>
<circle cx="1144.6" cy="158.27" r="5.21" fill="url(#hl)"/>
<ellipse cx="1170.34" cy="161.2" rx="7.95" ry="8.65" fill="#F17F88" stroke="#EF6F79" stroke-width="0.9"/>
<circle cx="1167.74" cy="158.47" r="5.21" fill="url(#hl)"/>
<ellipse cx="1193.48" cy="161.3" rx="7.95" ry="8.65" fill="#F17F88" stroke="#EF6F79" stroke-width="0.9"/>
<circle cx="1190.88" cy="158.57" r="5.21" fill="url(#hl)"/>
<ellipse cx="1216.62" cy="161.3" rx="7.95" ry="8.65" fill="#F17F88" stroke="#EF6F79" stroke-width="0.9"/>
<circle cx="1214.02" cy="158.57" r="5.21" fill="url(#hl)"/>
<ellipse cx="1239.76" cy="161.4" rx="7.95" ry="8.65" fill="#F17F88" stroke="#EF6F79" stroke-width="0.9"/>
<circle cx="1237.16" cy="158.67" r="5.21" fill="url(#hl)"/>
<ellipse cx="1262.9" cy="161.4" rx="7.95" ry="8.65" fill="#F17F88" stroke="#EF6F79" stroke-width="0.9"/>
<circle cx="1260.3" cy="158.67" r="5.21" fill="url(#hl)"/>
<ellipse cx="1286.04" cy="161.4" rx="7.95" ry="8.65" fill="#F17F88" stroke="#EF6F79" stroke-width="0.9"/>
<circle cx="1283.44" cy="158.67" r="5.21" fill="url(#hl)"/>
<ellipse cx="1309.18" cy="161.6" rx="7.95" ry="8.65" fill="#F17F88" stroke="#EF6F79" stroke-width="0.9"/>
<circle cx="1306.58" cy="158.87" r="5.21" fill="url(#hl)"/>
<ellipse cx="1332.32" cy="162.1" rx="7.95" ry="8.65" fill="#F17F88" stroke="#EF6F79" stroke-width="0.9"/>
<circle cx="1329.72" cy="159.37" r="5.21" fill="url(#hl)"/>
<ellipse cx="1355.46" cy="162.4" rx="7.95" ry="8.65" fill="#F17F88" stroke="#EF6F79" stroke-width="0.9"/>
<circle cx="1352.86" cy="159.67" r="5.21" fill="url(#hl)"/>
<ellipse cx="1378.6" cy="162.1" rx="7.95" ry="8.65" fill="#F17F88" stroke="#EF6F79" stroke-width="0.9"/>
<circle cx="1376" cy="159.37" r="5.21" fill="url(#hl)"/>
</g>
<line x1="846.5" y1="83" x2="1399" y2="83" stroke="#000" stroke-width="3"/>
<line x1="846.5" y1="81.5" x2="846.5" y2="531.7" stroke="#000" stroke-width="3"/>
<line x1="845" y1="530.2" x2="1401" y2="530.2" stroke="#000" stroke-width="3"/>
<line x1="1401" y1="81" x2="1401" y2="531.7" stroke="#EC3539" stroke-width="3"/>
<line x1="1397" y1="82.3" x2="1401" y2="82.3" stroke="#EC3539" stroke-width="2.6"/>
<line x1="847.8" y1="530.5" x2="853.3" y2="530.5" stroke="#000" stroke-width="2.6"/>
<line x1="847.8" y1="474.55" x2="853.3" y2="474.55" stroke="#000" stroke-width="2.6"/>
<line x1="847.8" y1="418.6" x2="853.3" y2="418.6" stroke="#000" stroke-width="2.6"/>
<line x1="847.8" y1="362.65" x2="853.3" y2="362.65" stroke="#000" stroke-width="2.6"/>
<line x1="847.8" y1="306.7" x2="853.3" y2="306.7" stroke="#000" stroke-width="2.6"/>
<line x1="847.8" y1="250.75" x2="853.3" y2="250.75" stroke="#000" stroke-width="2.6"/>
<line x1="847.8" y1="194.8" x2="853.3" y2="194.8" stroke="#000" stroke-width="2.6"/>
<line x1="847.8" y1="138.85" x2="853.3" y2="138.85" stroke="#000" stroke-width="2.6"/>
<line x1="847.8" y1="82.9" x2="853.3" y2="82.9" stroke="#000" stroke-width="2.6"/>
<line x1="847.8" y1="502.52" x2="849.5" y2="502.52" stroke="#000" stroke-width="2.4"/>
<line x1="847.8" y1="446.57" x2="849.5" y2="446.57" stroke="#000" stroke-width="2.4"/>
<line x1="847.8" y1="390.62" x2="849.5" y2="390.62" stroke="#000" stroke-width="2.4"/>
<line x1="847.8" y1="334.67" x2="849.5" y2="334.67" stroke="#000" stroke-width="2.4"/>
<line x1="847.8" y1="278.73" x2="849.5" y2="278.73" stroke="#000" stroke-width="2.4"/>
<line x1="847.8" y1="222.77" x2="849.5" y2="222.77" stroke="#000" stroke-width="2.4"/>
<line x1="847.8" y1="166.82" x2="849.5" y2="166.82" stroke="#000" stroke-width="2.4"/>
<line x1="847.8" y1="110.88" x2="849.5" y2="110.88" stroke="#000" stroke-width="2.4"/>
<text x="840.6" y="540.64" font-size="30" fill="#000" text-anchor="end">0.0</text>
<text x="840.6" y="484.69" font-size="30" fill="#000" text-anchor="end">0.5</text>
<text x="840.6" y="428.74" font-size="30" fill="#000" text-anchor="end">1.0</text>
<text x="840.6" y="372.79" font-size="30" fill="#000" text-anchor="end">1.5</text>
<text x="840.6" y="316.84" font-size="30" fill="#000" text-anchor="end">2.0</text>
<text x="840.6" y="260.89" font-size="30" fill="#000" text-anchor="end">2.5</text>
<text x="840.6" y="204.94" font-size="30" fill="#000" text-anchor="end">3.0</text>
<text x="840.6" y="148.99" font-size="30" fill="#000" text-anchor="end">3.5</text>
<text x="840.6" y="93.04" font-size="30" fill="#000" text-anchor="end">4.0</text>
<line x1="1399.7" y1="529.5" x2="1394.5" y2="529.5" stroke="#EC3539" stroke-width="2.6"/>
<text x="1407.5" y="539.64" font-size="30" fill="#EC3539" text-anchor="start">0.00</text>
<line x1="1399.7" y1="440.1" x2="1394.5" y2="440.1" stroke="#EC3539" stroke-width="2.6"/>
<text x="1407.5" y="450.24" font-size="30" fill="#EC3539" text-anchor="start">0.02</text>
<line x1="1399.7" y1="350.7" x2="1394.5" y2="350.7" stroke="#EC3539" stroke-width="2.6"/>
<text x="1407.5" y="360.84" font-size="30" fill="#EC3539" text-anchor="start">0.04</text>
<line x1="1399.7" y1="261.3" x2="1394.5" y2="261.3" stroke="#EC3539" stroke-width="2.6"/>
<text x="1407.5" y="271.44" font-size="30" fill="#EC3539" text-anchor="start">0.06</text>
<line x1="1399.7" y1="171.9" x2="1394.5" y2="171.9" stroke="#EC3539" stroke-width="2.6"/>
<text x="1407.5" y="182.04" font-size="30" fill="#EC3539" text-anchor="start">0.08</text>
<line x1="1399.7" y1="82.5" x2="1394.5" y2="82.5" stroke="#EC3539" stroke-width="2.6"/>
<text x="1407.5" y="92.64" font-size="30" fill="#EC3539" text-anchor="start">0.10</text>
<line x1="1399.7" y1="484.8" x2="1398" y2="484.8" stroke="#EC3539" stroke-width="2.4"/>
<line x1="1399.7" y1="395.4" x2="1398" y2="395.4" stroke="#EC3539" stroke-width="2.4"/>
<line x1="1399.7" y1="306" x2="1398" y2="306" stroke="#EC3539" stroke-width="2.4"/>
<line x1="1399.7" y1="216.6" x2="1398" y2="216.6" stroke="#EC3539" stroke-width="2.4"/>
<line x1="1399.7" y1="127.2" x2="1398" y2="127.2" stroke="#EC3539" stroke-width="2.4"/>
<line x1="915.8" y1="528.9" x2="915.8" y2="523.7" stroke="#000" stroke-width="2.6"/>
<text x="915.8" y="559.3" font-size="29.5" fill="#000" text-anchor="middle">50</text>
<line x1="1031.5" y1="528.9" x2="1031.5" y2="523.7" stroke="#000" stroke-width="2.6"/>
<text x="1031.5" y="559.3" font-size="29.5" fill="#000" text-anchor="middle">100</text>
<line x1="1147.2" y1="528.9" x2="1147.2" y2="523.7" stroke="#000" stroke-width="2.6"/>
<text x="1147.2" y="559.3" font-size="29.5" fill="#000" text-anchor="middle">150</text>
<line x1="1262.9" y1="528.9" x2="1262.9" y2="523.7" stroke="#000" stroke-width="2.6"/>
<text x="1262.9" y="559.3" font-size="29.5" fill="#000" text-anchor="middle">200</text>
<line x1="1378.6" y1="528.9" x2="1378.6" y2="523.7" stroke="#000" stroke-width="2.6"/>
<text x="1378.6" y="559.3" font-size="29.5" fill="#000" text-anchor="middle">250</text>
<line x1="857.95" y1="528.9" x2="857.95" y2="527.2" stroke="#000" stroke-width="2.2"/>
<line x1="973.65" y1="528.9" x2="973.65" y2="527.2" stroke="#000" stroke-width="2.2"/>
<line x1="1089.35" y1="528.9" x2="1089.35" y2="527.2" stroke="#000" stroke-width="2.2"/>
<line x1="1205.05" y1="528.9" x2="1205.05" y2="527.2" stroke="#000" stroke-width="2.2"/>
<line x1="1320.75" y1="528.9" x2="1320.75" y2="527.2" stroke="#000" stroke-width="2.2"/>
<text x="979.39" y="612.8" font-size="38.8" fill="#000" textLength="290.61" lengthAdjust="spacing">Temperature (°C)</text>
<text transform="translate(791.9,463.38) rotate(-90)" font-size="38.8" fill="#000" textLength="312.85" lengthAdjust="spacing">Dielectric Constant</text>
<text transform="translate(1496.2,425.28) rotate(-90)" font-size="38.8" fill="#EC3539" textLength="239.53" lengthAdjust="spacing">Dielectric Loss</text>
<path d="M1068.57,131.89 A15.09,15.97 0 1 1 1069.54,128.71" fill="none" stroke="#000" stroke-width="1.67"/>
<text x="1045.86" y="135" font-size="36.75" font-style="italic">a</text>
<text x="1082" y="134.8" font-size="37.5" fill="#000" textLength="105.01" lengthAdjust="spacing">1 kHZ</text>
<line x1="1057.5" y1="292.7" x2="1111" y2="292.7" stroke="#948578" stroke-width="4" stroke-linecap="round"/>
<rect x="1076.65" y="285.55" width="14.9" height="14.9" fill="#948578" stroke="#87776B" stroke-width="0.9"/>
<text x="1117.8" y="302.4" font-size="29" fill="#000" textLength="48.17" lengthAdjust="spacing">PEI</text>
<line x1="1057.5" y1="332.6" x2="1111" y2="332.6" stroke="#F17F88" stroke-width="4.2" stroke-linecap="round"/>
<ellipse cx="1084.3" cy="332.6" rx="7.75" ry="8.15" fill="#F17F88" stroke="#EF6F79" stroke-width="0.9"/>
<circle cx="1081.76" cy="330.02" r="5.08" fill="url(#hl)"/>
<text x="1117.85" y="342.8" font-size="29" fill="#000" textLength="68.23" lengthAdjust="spacing">TPEI</text>
<line x1="898.5" y1="202.4" x2="946" y2="202.4" stroke="#F06B75" stroke-width="3"/>
<polyline points="918,187.9 898.5,202.4 918,216.9" fill="none" stroke="#F06B75" stroke-width="3" stroke-linejoin="round" stroke-linejoin="bevel"/>
<line x1="1243" y1="447.8" x2="1293.7" y2="447.8" stroke="#F06B75" stroke-width="3"/>
<polyline points="1274.2,433.3 1293.7,447.8 1274.2,462.3" fill="none" stroke="#F06B75" stroke-width="3" stroke-linejoin="round" stroke-linejoin="bevel"/>
<line x1="99" y1="800" x2="663.3" y2="800" stroke="#F5B5BA" stroke-width="1.6" stroke-dasharray="6 3.2 1.4 3.2"/>
<clipPath id="clip97_658"><rect x="98.3" y="659.8" width="565.7" height="454.6"/></clipPath>
<g clip-path="url(#clip97_658)">
<rect x="246.65" y="691.15" width="16.7" height="16.7" fill="#656565"/>
<rect x="213.35" y="736.15" width="16.7" height="16.7" fill="#656565"/>
<rect x="209.45" y="768.65" width="16.7" height="16.7" fill="#656565"/>
<rect x="209.45" y="798.85" width="16.7" height="16.7" fill="#656565"/>
<rect x="190.85" y="830.15" width="16.7" height="16.7" fill="#656565"/>
<rect x="170.45" y="864.95" width="16.7" height="16.7" fill="#656565"/>
<rect x="153.35" y="906.35" width="16.7" height="16.7" fill="#656565"/>
<rect x="144.95" y="960.85" width="16.7" height="16.7" fill="#656565"/>
<rect x="136.05" y="1061.65" width="16.7" height="16.7" fill="#656565"/>
<ellipse cx="441.6" cy="700" rx="8.65" ry="8.65" fill="#F15F69" stroke="#EE525D" stroke-width="0.9"/>
<circle cx="438.78" cy="697.27" r="5.64" fill="url(#hl)"/>
<ellipse cx="441.6" cy="744" rx="8.65" ry="8.65" fill="#F15F69" stroke="#EE525D" stroke-width="0.9"/>
<circle cx="438.78" cy="741.27" r="5.64" fill="url(#hl)"/>
<ellipse cx="422.9" cy="777" rx="8.65" ry="8.65" fill="#F15F69" stroke="#EE525D" stroke-width="0.9"/>
<circle cx="420.08" cy="774.27" r="5.64" fill="url(#hl)"/>
<ellipse cx="414" cy="807.6" rx="8.65" ry="8.65" fill="#F15F69" stroke="#EE525D" stroke-width="0.9"/>
<circle cx="411.18" cy="804.87" r="5.64" fill="url(#hl)"/>
<ellipse cx="404.4" cy="839" rx="8.65" ry="8.65" fill="#F15F69" stroke="#EE525D" stroke-width="0.9"/>
<circle cx="401.58" cy="836.27" r="5.64" fill="url(#hl)"/>
<ellipse cx="394.5" cy="872.8" rx="8.65" ry="8.65" fill="#F15F69" stroke="#EE525D" stroke-width="0.9"/>
<circle cx="391.68" cy="870.07" r="5.64" fill="url(#hl)"/>
<ellipse cx="376.3" cy="914" rx="8.65" ry="8.65" fill="#F15F69" stroke="#EE525D" stroke-width="0.9"/>
<circle cx="373.48" cy="911.27" r="5.64" fill="url(#hl)"/>
<ellipse cx="377" cy="969.5" rx="8.65" ry="8.65" fill="#F15F69" stroke="#EE525D" stroke-width="0.9"/>
<circle cx="374.18" cy="966.77" r="5.64" fill="url(#hl)"/>
<ellipse cx="367.5" cy="1069.3" rx="8.65" ry="8.65" fill="#F15F69" stroke="#EE525D" stroke-width="0.9"/>
<circle cx="364.68" cy="1066.57" r="5.64" fill="url(#hl)"/>
<line x1="106.5" y1="1116" x2="261.6" y2="658" stroke="#606060" stroke-width="4.3"/>
<line x1="339.2" y1="1116" x2="454.3" y2="658" stroke="#F15F69" stroke-width="4.5"/>
</g>
<rect x="97" y="658.5" width="568.3" height="457.2" fill="none" stroke="#000" stroke-width="3.0"/>
<line x1="98.3" y1="1114.4" x2="103.8" y2="1114.4" stroke="#000" stroke-width="2.6"/>
<line x1="98.3" y1="1062" x2="103.8" y2="1062" stroke="#000" stroke-width="2.6"/>
<line x1="98.3" y1="1009.6" x2="103.8" y2="1009.6" stroke="#000" stroke-width="2.6"/>
<line x1="98.3" y1="957.2" x2="103.8" y2="957.2" stroke="#000" stroke-width="2.6"/>
<line x1="98.3" y1="904.8" x2="103.8" y2="904.8" stroke="#000" stroke-width="2.6"/>
<line x1="98.3" y1="852.4" x2="103.8" y2="852.4" stroke="#000" stroke-width="2.6"/>
<line x1="98.3" y1="800" x2="103.8" y2="800" stroke="#000" stroke-width="2.6"/>
<line x1="98.3" y1="747.6" x2="103.8" y2="747.6" stroke="#000" stroke-width="2.6"/>
<line x1="98.3" y1="695.2" x2="103.8" y2="695.2" stroke="#000" stroke-width="2.6"/>
<line x1="98.3" y1="1088.2" x2="100" y2="1088.2" stroke="#000" stroke-width="2.4"/>
<line x1="98.3" y1="1035.8" x2="100" y2="1035.8" stroke="#000" stroke-width="2.4"/>
<line x1="98.3" y1="983.4" x2="100" y2="983.4" stroke="#000" stroke-width="2.4"/>
<line x1="98.3" y1="931" x2="100" y2="931" stroke="#000" stroke-width="2.4"/>
<line x1="98.3" y1="878.6" x2="100" y2="878.6" stroke="#000" stroke-width="2.4"/>
<line x1="98.3" y1="826.2" x2="100" y2="826.2" stroke="#000" stroke-width="2.4"/>
<line x1="98.3" y1="773.8" x2="100" y2="773.8" stroke="#000" stroke-width="2.4"/>
<line x1="98.3" y1="721.4" x2="100" y2="721.4" stroke="#000" stroke-width="2.4"/>
<line x1="98.3" y1="669" x2="100" y2="669" stroke="#000" stroke-width="2.4"/>
<text x="90" y="1124.71" font-size="30.5" fill="#000" text-anchor="end">-3.0</text>
<text x="90" y="1072.31" font-size="30.5" fill="#000" text-anchor="end">-2.5</text>
<text x="90" y="1019.91" font-size="30.5" fill="#000" text-anchor="end">-2.0</text>
<text x="90" y="967.51" font-size="30.5" fill="#000" text-anchor="end">-1.5</text>
<text x="90" y="915.11" font-size="30.5" fill="#000" text-anchor="end">-1.0</text>
<text x="90" y="862.71" font-size="30.5" fill="#000" text-anchor="end">-0.5</text>
<text x="90" y="810.31" font-size="30.5" fill="#000" text-anchor="end">0.0</text>
<text x="90" y="757.91" font-size="30.5" fill="#000" text-anchor="end">0.5</text>
<text x="90" y="705.51" font-size="30.5" fill="#000" text-anchor="end">1.0</text>
<line x1="106" y1="1114.4" x2="106" y2="1109.2" stroke="#000" stroke-width="2.6"/>
<text x="106" y="1145.6" font-size="30" fill="#000" text-anchor="middle">400</text>
<line x1="199.1" y1="1114.4" x2="199.1" y2="1109.2" stroke="#000" stroke-width="2.6"/>
<text x="199.1" y="1145.6" font-size="30" fill="#000" text-anchor="middle">500</text>
<line x1="292.2" y1="1114.4" x2="292.2" y2="1109.2" stroke="#000" stroke-width="2.6"/>
<text x="292.2" y="1145.6" font-size="30" fill="#000" text-anchor="middle">600</text>
<line x1="385.3" y1="1114.4" x2="385.3" y2="1109.2" stroke="#000" stroke-width="2.6"/>
<text x="385.3" y="1145.6" font-size="30" fill="#000" text-anchor="middle">700</text>
<line x1="478.4" y1="1114.4" x2="478.4" y2="1109.2" stroke="#000" stroke-width="2.6"/>
<text x="478.4" y="1145.6" font-size="30" fill="#000" text-anchor="middle">800</text>
<line x1="571.5" y1="1114.4" x2="571.5" y2="1109.2" stroke="#000" stroke-width="2.6"/>
<text x="571.5" y="1145.6" font-size="30" fill="#000" text-anchor="middle">900</text>
<line x1="664.6" y1="1114.4" x2="664.6" y2="1109.2" stroke="#000" stroke-width="2.6"/>
<text x="664.6" y="1145.6" font-size="30" fill="#000" text-anchor="middle">1000</text>
<line x1="152.55" y1="1114.4" x2="152.55" y2="1112.7" stroke="#000" stroke-width="2.2"/>
<line x1="245.65" y1="1114.4" x2="245.65" y2="1112.7" stroke="#000" stroke-width="2.2"/>
<line x1="338.75" y1="1114.4" x2="338.75" y2="1112.7" stroke="#000" stroke-width="2.2"/>
<line x1="431.85" y1="1114.4" x2="431.85" y2="1112.7" stroke="#000" stroke-width="2.2"/>
<line x1="524.95" y1="1114.4" x2="524.95" y2="1112.7" stroke="#000" stroke-width="2.2"/>
<line x1="618.05" y1="1114.4" x2="618.05" y2="1112.7" stroke="#000" stroke-width="2.2"/>
<text x="197.64" y="1200.7" font-size="38.8" fill="#000" textLength="366.77" lengthAdjust="spacing">Electric Field (MV/m)</text>
<text transform="translate(30.8,995.06) rotate(-90)" font-size="38.8" fill="#000" textLength="215.77" lengthAdjust="spacing">Ln(-Ln(1-P))</text>
<path d="M517.17,707.83 A15.4,16.3 0 1 1 518.16,704.59" fill="none" stroke="#000" stroke-width="1.7"/>
<text x="494" y="711" font-size="37.5" font-style="italic">a</text>
<text x="530.76" y="710.8" font-size="38" fill="#000" textLength="111.14" lengthAdjust="spacing">150 °C</text>
<rect x="496.55" y="741.25" width="16.5" height="16.5" fill="#656565"/>
<text x="524.49" y="756.8" font-size="30" fill="#000" textLength="49.52" lengthAdjust="spacing">PEI</text>
<ellipse cx="504.4" cy="787.2" rx="8.65" ry="8.65" fill="#F15F69" stroke="#EE525D" stroke-width="0.9"/>
<circle cx="501.58" cy="784.47" r="5.64" fill="url(#hl)"/>
<text x="524.53" y="794.1" font-size="30" fill="#000" textLength="69.88" lengthAdjust="spacing">TPEI</text>
<text x="213.29" y="901" font-size="30" fill="#404040" textLength="131.5" lengthAdjust="spacing">E<tspan font-size="20" dy="8.8">b</tspan><tspan dy="-8.8">=513.22</tspan></text>
<text x="212.8" y="945" font-size="30" fill="#404040" textLength="101.49" lengthAdjust="spacing">β=13.22</text>
<text x="447.49" y="901" font-size="30" fill="#EF5D66" textLength="130.55" lengthAdjust="spacing">E<tspan font-size="20" dy="8.8">b</tspan><tspan dy="-8.8">=734.27</tspan></text>
<text x="447" y="945" font-size="30" fill="#EF5D66" textLength="100.26" lengthAdjust="spacing">β=25.44</text>
<line x1="844.7" y1="799.8" x2="1409.7" y2="799.8" stroke="#F5B5BA" stroke-width="1.6" stroke-dasharray="6 3.2 1.4 3.2"/>
<clipPath id="clip842_658"><rect x="844" y="659.6" width="566.4" height="454.7"/></clipPath>
<g clip-path="url(#clip842_658)">
<rect x="978.35" y="690.95" width="16.7" height="16.7" fill="#656565"/>
<rect x="956.35" y="734.95" width="16.7" height="16.7" fill="#656565"/>
<rect x="931.65" y="768.05" width="16.7" height="16.7" fill="#656565"/>
<rect x="931.65" y="799.25" width="16.7" height="16.7" fill="#656565"/>
<rect x="931.65" y="830.35" width="16.7" height="16.7" fill="#656565"/>
<rect x="926.45" y="864.35" width="16.7" height="16.7" fill="#656565"/>
<rect x="900.35" y="905.35" width="16.7" height="16.7" fill="#656565"/>
<rect x="888.65" y="961.35" width="16.7" height="16.7" fill="#656565"/>
<rect x="875.25" y="1060.65" width="16.7" height="16.7" fill="#656565"/>
<ellipse cx="1143.3" cy="699" rx="8.65" ry="8.65" fill="#F15F69" stroke="#EE525D" stroke-width="0.9"/>
<circle cx="1140.48" cy="696.27" r="5.64" fill="url(#hl)"/>
<ellipse cx="1143.3" cy="743.3" rx="8.65" ry="8.65" fill="#F15F69" stroke="#EE525D" stroke-width="0.9"/>
<circle cx="1140.48" cy="740.57" r="5.64" fill="url(#hl)"/>
<ellipse cx="1143.3" cy="776.7" rx="8.65" ry="8.65" fill="#F15F69" stroke="#EE525D" stroke-width="0.9"/>
<circle cx="1140.48" cy="773.97" r="5.64" fill="url(#hl)"/>
<ellipse cx="1143.3" cy="807.3" rx="8.65" ry="8.65" fill="#F15F69" stroke="#EE525D" stroke-width="0.9"/>
<circle cx="1140.48" cy="804.57" r="5.64" fill="url(#hl)"/>
<ellipse cx="1135.3" cy="838.7" rx="8.65" ry="8.65" fill="#F15F69" stroke="#EE525D" stroke-width="0.9"/>
<circle cx="1132.48" cy="835.97" r="5.64" fill="url(#hl)"/>
<ellipse cx="1127" cy="872.7" rx="8.65" ry="8.65" fill="#F15F69" stroke="#EE525D" stroke-width="0.9"/>
<circle cx="1124.18" cy="869.97" r="5.64" fill="url(#hl)"/>
<ellipse cx="1110.3" cy="913.7" rx="8.65" ry="8.65" fill="#F15F69" stroke="#EE525D" stroke-width="0.9"/>
<circle cx="1107.48" cy="910.97" r="5.64" fill="url(#hl)"/>
<ellipse cx="1094" cy="969.7" rx="8.65" ry="8.65" fill="#F15F69" stroke="#EE525D" stroke-width="0.9"/>
<circle cx="1091.18" cy="966.97" r="5.64" fill="url(#hl)"/>
<ellipse cx="1086.4" cy="1069" rx="8.65" ry="8.65" fill="#F15F69" stroke="#EE525D" stroke-width="0.9"/>
<circle cx="1083.58" cy="1066.27" r="5.64" fill="url(#hl)"/>
<line x1="856.4" y1="1116" x2="990" y2="658" stroke="#606060" stroke-width="4.3"/>
<line x1="1071.7" y1="1116" x2="1165.6" y2="658" stroke="#F15F69" stroke-width="4.5"/>
</g>
<rect x="842.7" y="658.3" width="569" height="457.3" fill="none" stroke="#000" stroke-width="3.0"/>
<line x1="844" y1="1114.2" x2="849.5" y2="1114.2" stroke="#000" stroke-width="2.6"/>
<line x1="844" y1="1061.8" x2="849.5" y2="1061.8" stroke="#000" stroke-width="2.6"/>
<line x1="844" y1="1009.4" x2="849.5" y2="1009.4" stroke="#000" stroke-width="2.6"/>
<line x1="844" y1="957" x2="849.5" y2="957" stroke="#000" stroke-width="2.6"/>
<line x1="844" y1="904.6" x2="849.5" y2="904.6" stroke="#000" stroke-width="2.6"/>
<line x1="844" y1="852.2" x2="849.5" y2="852.2" stroke="#000" stroke-width="2.6"/>
<line x1="844" y1="799.8" x2="849.5" y2="799.8" stroke="#000" stroke-width="2.6"/>
<line x1="844" y1="747.4" x2="849.5" y2="747.4" stroke="#000" stroke-width="2.6"/>
<line x1="844" y1="695" x2="849.5" y2="695" stroke="#000" stroke-width="2.6"/>
<line x1="844" y1="1088" x2="845.7" y2="1088" stroke="#000" stroke-width="2.4"/>
<line x1="844" y1="1035.6" x2="845.7" y2="1035.6" stroke="#000" stroke-width="2.4"/>
<line x1="844" y1="983.2" x2="845.7" y2="983.2" stroke="#000" stroke-width="2.4"/>
<line x1="844" y1="930.8" x2="845.7" y2="930.8" stroke="#000" stroke-width="2.4"/>
<line x1="844" y1="878.4" x2="845.7" y2="878.4" stroke="#000" stroke-width="2.4"/>
<line x1="844" y1="826" x2="845.7" y2="826" stroke="#000" stroke-width="2.4"/>
<line x1="844" y1="773.6" x2="845.7" y2="773.6" stroke="#000" stroke-width="2.4"/>
<line x1="844" y1="721.2" x2="845.7" y2="721.2" stroke="#000" stroke-width="2.4"/>
<line x1="844" y1="668.8" x2="845.7" y2="668.8" stroke="#000" stroke-width="2.4"/>
<text x="836" y="1124.51" font-size="30.5" fill="#000" text-anchor="end">-3.0</text>
<text x="836" y="1072.11" font-size="30.5" fill="#000" text-anchor="end">-2.5</text>
<text x="836" y="1019.71" font-size="30.5" fill="#000" text-anchor="end">-2.0</text>
<text x="836" y="967.31" font-size="30.5" fill="#000" text-anchor="end">-1.5</text>
<text x="836" y="914.91" font-size="30.5" fill="#000" text-anchor="end">-1.0</text>
<text x="836" y="862.51" font-size="30.5" fill="#000" text-anchor="end">-0.5</text>
<text x="836" y="810.11" font-size="30.5" fill="#000" text-anchor="end">0.0</text>
<text x="836" y="757.71" font-size="30.5" fill="#000" text-anchor="end">0.5</text>
<text x="836" y="705.31" font-size="30.5" fill="#000" text-anchor="end">1.0</text>
<line x1="843.1" y1="1114.3" x2="843.1" y2="1109.1" stroke="#000" stroke-width="2.6"/>
<text x="843.1" y="1145.6" font-size="30" fill="#000" text-anchor="middle">300</text>
<line x1="924.43" y1="1114.3" x2="924.43" y2="1109.1" stroke="#000" stroke-width="2.6"/>
<text x="924.43" y="1145.6" font-size="30" fill="#000" text-anchor="middle">400</text>
<line x1="1005.76" y1="1114.3" x2="1005.76" y2="1109.1" stroke="#000" stroke-width="2.6"/>
<text x="1005.76" y="1145.6" font-size="30" fill="#000" text-anchor="middle">500</text>
<line x1="1087.09" y1="1114.3" x2="1087.09" y2="1109.1" stroke="#000" stroke-width="2.6"/>
<text x="1087.09" y="1145.6" font-size="30" fill="#000" text-anchor="middle">600</text>
<line x1="1168.42" y1="1114.3" x2="1168.42" y2="1109.1" stroke="#000" stroke-width="2.6"/>
<text x="1168.42" y="1145.6" font-size="30" fill="#000" text-anchor="middle">700</text>
<line x1="1249.75" y1="1114.3" x2="1249.75" y2="1109.1" stroke="#000" stroke-width="2.6"/>
<text x="1249.75" y="1145.6" font-size="30" fill="#000" text-anchor="middle">800</text>
<line x1="1331.08" y1="1114.3" x2="1331.08" y2="1109.1" stroke="#000" stroke-width="2.6"/>
<text x="1331.08" y="1145.6" font-size="30" fill="#000" text-anchor="middle">900</text>
<line x1="1412.41" y1="1114.3" x2="1412.41" y2="1109.1" stroke="#000" stroke-width="2.6"/>
<text x="1412.41" y="1145.6" font-size="30" fill="#000" text-anchor="middle">1000</text>
<line x1="883.76" y1="1114.3" x2="883.76" y2="1112.6" stroke="#000" stroke-width="2.2"/>
<line x1="965.1" y1="1114.3" x2="965.1" y2="1112.6" stroke="#000" stroke-width="2.2"/>
<line x1="1046.42" y1="1114.3" x2="1046.42" y2="1112.6" stroke="#000" stroke-width="2.2"/>
<line x1="1127.76" y1="1114.3" x2="1127.76" y2="1112.6" stroke="#000" stroke-width="2.2"/>
<line x1="1209.09" y1="1114.3" x2="1209.09" y2="1112.6" stroke="#000" stroke-width="2.2"/>
<line x1="1290.41" y1="1114.3" x2="1290.41" y2="1112.6" stroke="#000" stroke-width="2.2"/>
<line x1="1371.74" y1="1114.3" x2="1371.74" y2="1112.6" stroke="#000" stroke-width="2.2"/>
<text x="943.54" y="1200.4" font-size="38.8" fill="#000" textLength="367.17" lengthAdjust="spacing">Electric Field (MV/m)</text>
<text transform="translate(776.7,994.46) rotate(-90)" font-size="38.8" fill="#000" textLength="215.77" lengthAdjust="spacing">Ln(-Ln(1-P))</text>
<path d="M1262.47,706.33 A15.4,16.3 0 1 1 1263.46,703.09" fill="none" stroke="#000" stroke-width="1.7"/>
<text x="1239.3" y="709.5" font-size="37.5" font-style="italic">a</text>
<text x="1277.5" y="709.3" font-size="38" fill="#000" textLength="110.39" lengthAdjust="spacing">200 °C</text>
<rect x="1242.45" y="740.55" width="16.5" height="16.5" fill="#656565"/>
<text x="1270.49" y="755.8" font-size="30" fill="#000" textLength="49.52" lengthAdjust="spacing">PEI</text>
<ellipse cx="1250.6" cy="786.4" rx="8.65" ry="8.65" fill="#F15F69" stroke="#EE525D" stroke-width="0.9"/>
<circle cx="1247.78" cy="783.67" r="5.64" fill="url(#hl)"/>
<text x="1270.53" y="793.3" font-size="30" fill="#000" textLength="70.48" lengthAdjust="spacing">TPEI</text>
<text x="959.99" y="899.8" font-size="30" fill="#404040" textLength="130.07" lengthAdjust="spacing">E<tspan font-size="20" dy="8.8">b</tspan><tspan dy="-8.8">=428.84</tspan></text>
<text x="959.5" y="943.8" font-size="30" fill="#404040" textLength="101" lengthAdjust="spacing">β=10.98</text>
<text x="1193.09" y="899.8" font-size="30" fill="#EF5D66" textLength="130.97" lengthAdjust="spacing">E<tspan font-size="20" dy="8.8">b</tspan><tspan dy="-8.8">=661.84</tspan></text>
<text x="1192.6" y="943.8" font-size="30" fill="#EF5D66" textLength="100.54" lengthAdjust="spacing">β=24.10</text>
<line x1="98" y1="1380.8" x2="669.1" y2="1380.8" stroke="#F5B5BA" stroke-width="1.6" stroke-dasharray="6 3.2 1.4 3.2"/>
<clipPath id="clip96_1238"><rect x="97.3" y="1239.5" width="572.5" height="459"/></clipPath>
<g clip-path="url(#clip96_1238)">
<ellipse cx="383.3" cy="1279.2" rx="8.65" ry="8.65" fill="#F15F69" stroke="#EE525D" stroke-width="0.9"/>
<circle cx="380.48" cy="1276.47" r="5.64" fill="url(#hl)"/>
<ellipse cx="383.3" cy="1324.3" rx="8.65" ry="8.65" fill="#F15F69" stroke="#EE525D" stroke-width="0.9"/>
<circle cx="380.48" cy="1321.57" r="5.64" fill="url(#hl)"/>
<ellipse cx="368.7" cy="1357.4" rx="8.65" ry="8.65" fill="#F15F69" stroke="#EE525D" stroke-width="0.9"/>
<circle cx="365.88" cy="1354.67" r="5.64" fill="url(#hl)"/>
<ellipse cx="340.1" cy="1388.4" rx="8.65" ry="8.65" fill="#F15F69" stroke="#EE525D" stroke-width="0.9"/>
<circle cx="337.28" cy="1385.67" r="5.64" fill="url(#hl)"/>
<ellipse cx="311.7" cy="1419.3" rx="8.65" ry="8.65" fill="#F15F69" stroke="#EE525D" stroke-width="0.9"/>
<circle cx="308.88" cy="1416.57" r="5.64" fill="url(#hl)"/>
<ellipse cx="296.8" cy="1454.8" rx="8.65" ry="8.65" fill="#F15F69" stroke="#EE525D" stroke-width="0.9"/>
<circle cx="293.98" cy="1452.07" r="5.64" fill="url(#hl)"/>
<ellipse cx="281.9" cy="1496.3" rx="8.65" ry="8.65" fill="#F15F69" stroke="#EE525D" stroke-width="0.9"/>
<circle cx="279.08" cy="1493.57" r="5.64" fill="url(#hl)"/>
<ellipse cx="238.9" cy="1552.3" rx="8.65" ry="8.65" fill="#F15F69" stroke="#EE525D" stroke-width="0.9"/>
<circle cx="236.08" cy="1549.57" r="5.64" fill="url(#hl)"/>
<ellipse cx="210.6" cy="1653.2" rx="8.65" ry="8.65" fill="#F15F69" stroke="#EE525D" stroke-width="0.9"/>
<circle cx="207.78" cy="1650.47" r="5.64" fill="url(#hl)"/>
<line x1="171" y1="1701" x2="419" y2="1237" stroke="#F15F69" stroke-width="4.5"/>
</g>
<rect x="96" y="1238.2" width="575.1" height="461.6" fill="none" stroke="#000" stroke-width="3.0"/>
<line x1="97.3" y1="1698.2" x2="102.8" y2="1698.2" stroke="#000" stroke-width="2.6"/>
<line x1="97.3" y1="1645.3" x2="102.8" y2="1645.3" stroke="#000" stroke-width="2.6"/>
<line x1="97.3" y1="1592.4" x2="102.8" y2="1592.4" stroke="#000" stroke-width="2.6"/>
<line x1="97.3" y1="1539.5" x2="102.8" y2="1539.5" stroke="#000" stroke-width="2.6"/>
<line x1="97.3" y1="1486.6" x2="102.8" y2="1486.6" stroke="#000" stroke-width="2.6"/>
<line x1="97.3" y1="1433.7" x2="102.8" y2="1433.7" stroke="#000" stroke-width="2.6"/>
<line x1="97.3" y1="1380.8" x2="102.8" y2="1380.8" stroke="#000" stroke-width="2.6"/>
<line x1="97.3" y1="1327.9" x2="102.8" y2="1327.9" stroke="#000" stroke-width="2.6"/>
<line x1="97.3" y1="1275" x2="102.8" y2="1275" stroke="#000" stroke-width="2.6"/>
<line x1="97.3" y1="1671.75" x2="99" y2="1671.75" stroke="#000" stroke-width="2.4"/>
<line x1="97.3" y1="1618.85" x2="99" y2="1618.85" stroke="#000" stroke-width="2.4"/>
<line x1="97.3" y1="1565.95" x2="99" y2="1565.95" stroke="#000" stroke-width="2.4"/>
<line x1="97.3" y1="1513.05" x2="99" y2="1513.05" stroke="#000" stroke-width="2.4"/>
<line x1="97.3" y1="1460.15" x2="99" y2="1460.15" stroke="#000" stroke-width="2.4"/>
<line x1="97.3" y1="1407.25" x2="99" y2="1407.25" stroke="#000" stroke-width="2.4"/>
<line x1="97.3" y1="1354.35" x2="99" y2="1354.35" stroke="#000" stroke-width="2.4"/>
<line x1="97.3" y1="1301.45" x2="99" y2="1301.45" stroke="#000" stroke-width="2.4"/>
<line x1="97.3" y1="1248.55" x2="99" y2="1248.55" stroke="#000" stroke-width="2.4"/>
<text x="90" y="1708.51" font-size="30.5" fill="#000" text-anchor="end">-3.0</text>
<text x="90" y="1655.61" font-size="30.5" fill="#000" text-anchor="end">-2.5</text>
<text x="90" y="1602.71" font-size="30.5" fill="#000" text-anchor="end">-2.0</text>
<text x="90" y="1549.81" font-size="30.5" fill="#000" text-anchor="end">-1.5</text>
<text x="90" y="1496.91" font-size="30.5" fill="#000" text-anchor="end">-1.0</text>
<text x="90" y="1444.01" font-size="30.5" fill="#000" text-anchor="end">-0.5</text>
<text x="90" y="1391.11" font-size="30.5" fill="#000" text-anchor="end">0.0</text>
<text x="90" y="1338.21" font-size="30.5" fill="#000" text-anchor="end">0.5</text>
<text x="90" y="1285.31" font-size="30.5" fill="#000" text-anchor="end">1.0</text>
<line x1="96.4" y1="1698.5" x2="96.4" y2="1693.3" stroke="#000" stroke-width="2.6"/>
<text x="96.4" y="1730.6" font-size="30" fill="#000" text-anchor="middle">400</text>
<line x1="239.9" y1="1698.5" x2="239.9" y2="1693.3" stroke="#000" stroke-width="2.6"/>
<text x="239.9" y="1730.6" font-size="30" fill="#000" text-anchor="middle">500</text>
<line x1="383.4" y1="1698.5" x2="383.4" y2="1693.3" stroke="#000" stroke-width="2.6"/>
<text x="383.4" y="1730.6" font-size="30" fill="#000" text-anchor="middle">600</text>
<line x1="526.9" y1="1698.5" x2="526.9" y2="1693.3" stroke="#000" stroke-width="2.6"/>
<text x="526.9" y="1730.6" font-size="30" fill="#000" text-anchor="middle">700</text>
<line x1="670.4" y1="1698.5" x2="670.4" y2="1693.3" stroke="#000" stroke-width="2.6"/>
<text x="670.4" y="1730.6" font-size="30" fill="#000" text-anchor="middle">800</text>
<line x1="168.15" y1="1698.5" x2="168.15" y2="1696.8" stroke="#000" stroke-width="2.2"/>
<line x1="311.65" y1="1698.5" x2="311.65" y2="1696.8" stroke="#000" stroke-width="2.2"/>
<line x1="455.15" y1="1698.5" x2="455.15" y2="1696.8" stroke="#000" stroke-width="2.2"/>
<line x1="598.65" y1="1698.5" x2="598.65" y2="1696.8" stroke="#000" stroke-width="2.2"/>
<text x="197.94" y="1785.8" font-size="38.8" fill="#000" textLength="370.77" lengthAdjust="spacing">Electric Field (MV/m)</text>
<text transform="translate(29.6,1577.46) rotate(-90)" font-size="38.8" fill="#000" textLength="216.67" lengthAdjust="spacing">Ln(-Ln(1-P))</text>
<path d="M519.37,1287.03 A15.4,16.3 0 1 1 520.36,1283.79" fill="none" stroke="#000" stroke-width="1.7"/>
<text x="496.2" y="1290.2" font-size="37.5" font-style="italic">a</text>
<text x="534.4" y="1290" font-size="38" fill="#000" textLength="112.99" lengthAdjust="spacing">250 °C</text>
<ellipse cx="507.9" cy="1329.1" rx="8.65" ry="8.65" fill="#F15F69" stroke="#EE525D" stroke-width="0.9"/>
<circle cx="505.08" cy="1326.37" r="5.64" fill="url(#hl)"/>
<text x="528.83" y="1336.3" font-size="30" fill="#000" textLength="69.88" lengthAdjust="spacing">TPEI</text>
<text x="359.09" y="1478" font-size="30" fill="#EF5D66" textLength="131.06" lengthAdjust="spacing">E<tspan font-size="20" dy="8.8">b</tspan><tspan dy="-8.8">=570.80</tspan></text>
<text x="358.6" y="1522" font-size="30" fill="#EF5D66" textLength="101.54" lengthAdjust="spacing">β=14.70</text>
<rect x="917.6" y="1402.6" width="44.4" height="295.4" fill="#F38086"/>
<rect x="965.5" y="1451.7" width="44.4" height="246.3" fill="#85B1DD"/>
<rect x="1205.2" y="1274.7" width="44.4" height="423.3" fill="#F38086"/>
<rect x="1253" y="1316.1" width="44.8" height="381.9" fill="#85B1DD"/>
<rect x="1300.9" y="1369" width="44.8" height="329" fill="#6AD0AF"/>
<rect x="844" y="1234.8" width="575.2" height="463.2" fill="none" stroke="#000" stroke-width="3.0"/>
<line x1="845.3" y1="1697.8" x2="850.8" y2="1697.8" stroke="#000" stroke-width="2.6"/>
<line x1="845.3" y1="1639.95" x2="850.8" y2="1639.95" stroke="#000" stroke-width="2.6"/>
<line x1="845.3" y1="1582.1" x2="850.8" y2="1582.1" stroke="#000" stroke-width="2.6"/>
<line x1="845.3" y1="1524.25" x2="850.8" y2="1524.25" stroke="#000" stroke-width="2.6"/>
<line x1="845.3" y1="1466.4" x2="850.8" y2="1466.4" stroke="#000" stroke-width="2.6"/>
<line x1="845.3" y1="1408.55" x2="850.8" y2="1408.55" stroke="#000" stroke-width="2.6"/>
<line x1="845.3" y1="1350.7" x2="850.8" y2="1350.7" stroke="#000" stroke-width="2.6"/>
<line x1="845.3" y1="1292.85" x2="850.8" y2="1292.85" stroke="#000" stroke-width="2.6"/>
<line x1="845.3" y1="1235" x2="850.8" y2="1235" stroke="#000" stroke-width="2.6"/>
<line x1="845.3" y1="1668.88" x2="847" y2="1668.88" stroke="#000" stroke-width="2.4"/>
<line x1="845.3" y1="1611.02" x2="847" y2="1611.02" stroke="#000" stroke-width="2.4"/>
<line x1="845.3" y1="1553.17" x2="847" y2="1553.17" stroke="#000" stroke-width="2.4"/>
<line x1="845.3" y1="1495.33" x2="847" y2="1495.33" stroke="#000" stroke-width="2.4"/>
<line x1="845.3" y1="1437.47" x2="847" y2="1437.47" stroke="#000" stroke-width="2.4"/>
<line x1="845.3" y1="1379.62" x2="847" y2="1379.62" stroke="#000" stroke-width="2.4"/>
<line x1="845.3" y1="1321.77" x2="847" y2="1321.77" stroke="#000" stroke-width="2.4"/>
<line x1="845.3" y1="1263.92" x2="847" y2="1263.92" stroke="#000" stroke-width="2.4"/>
<text x="837.3" y="1708.28" font-size="31" fill="#000" text-anchor="end">0</text>
<text x="837.3" y="1650.43" font-size="31" fill="#000" text-anchor="end">100</text>
<text x="837.3" y="1592.58" font-size="31" fill="#000" text-anchor="end">200</text>
<text x="837.3" y="1534.73" font-size="31" fill="#000" text-anchor="end">300</text>
<text x="837.3" y="1476.88" font-size="31" fill="#000" text-anchor="end">400</text>
<text x="837.3" y="1419.03" font-size="31" fill="#000" text-anchor="end">500</text>
<text x="837.3" y="1361.18" font-size="31" fill="#000" text-anchor="end">600</text>
<text x="837.3" y="1303.33" font-size="31" fill="#000" text-anchor="end">700</text>
<text x="837.3" y="1245.48" font-size="31" fill="#000" text-anchor="end">800</text>
<rect x="890" y="1246.7" width="50.5" height="29.9" fill="#F38086"/>
<rect x="890" y="1287.9" width="50.5" height="29.2" fill="#85B1DD"/>
<rect x="890" y="1328" width="50.5" height="29.6" fill="#6AD0AF"/>
<text x="949.78" y="1271.9" font-size="31.5" fill="#000" textLength="94.52" lengthAdjust="spacing">150 °C</text>
<text x="950.98" y="1313.1" font-size="31.5" fill="#000" textLength="93.32" lengthAdjust="spacing">200 °C</text>
<text x="950.98" y="1353.6" font-size="31.5" fill="#000" textLength="93.32" lengthAdjust="spacing">250 °C</text>
<text x="902.95" y="1394.5" font-size="26.3" fill="#000" textLength="72.38" lengthAdjust="spacing">513.22</text>
<text x="960.44" y="1442.5" font-size="26.3" fill="#000" textLength="71.25" lengthAdjust="spacing">428.84</text>
<text x="1190.6" y="1267.2" font-size="26.3" fill="#000" textLength="72.34" lengthAdjust="spacing">734.27</text>
<text x="1248.3" y="1307.7" font-size="26.3" fill="#000" textLength="71.19" lengthAdjust="spacing">661.84</text>
<text x="1298.55" y="1357.8" font-size="26.3" fill="#000" textLength="59.33" lengthAdjust="spacing">570.8</text>
<text x="935.64" y="1740.9" font-size="38.7" fill="#000" textLength="65.47" lengthAdjust="spacing">PEI</text>
<text x="1210.7" y="1740.9" font-size="38.7" fill="#000" textLength="90.61" lengthAdjust="spacing">TPEI</text>
<text transform="translate(777.4,1710.26) rotate(-90)" font-size="38.8" fill="#000" textLength="487.18" lengthAdjust="spacing">Breakdown Strength <tspan font-weight="normal" font-size="28.5">(</tspan>MV/m<tspan font-weight="normal" font-size="28.5">)</tspan></text>
</svg>
</body></html>
